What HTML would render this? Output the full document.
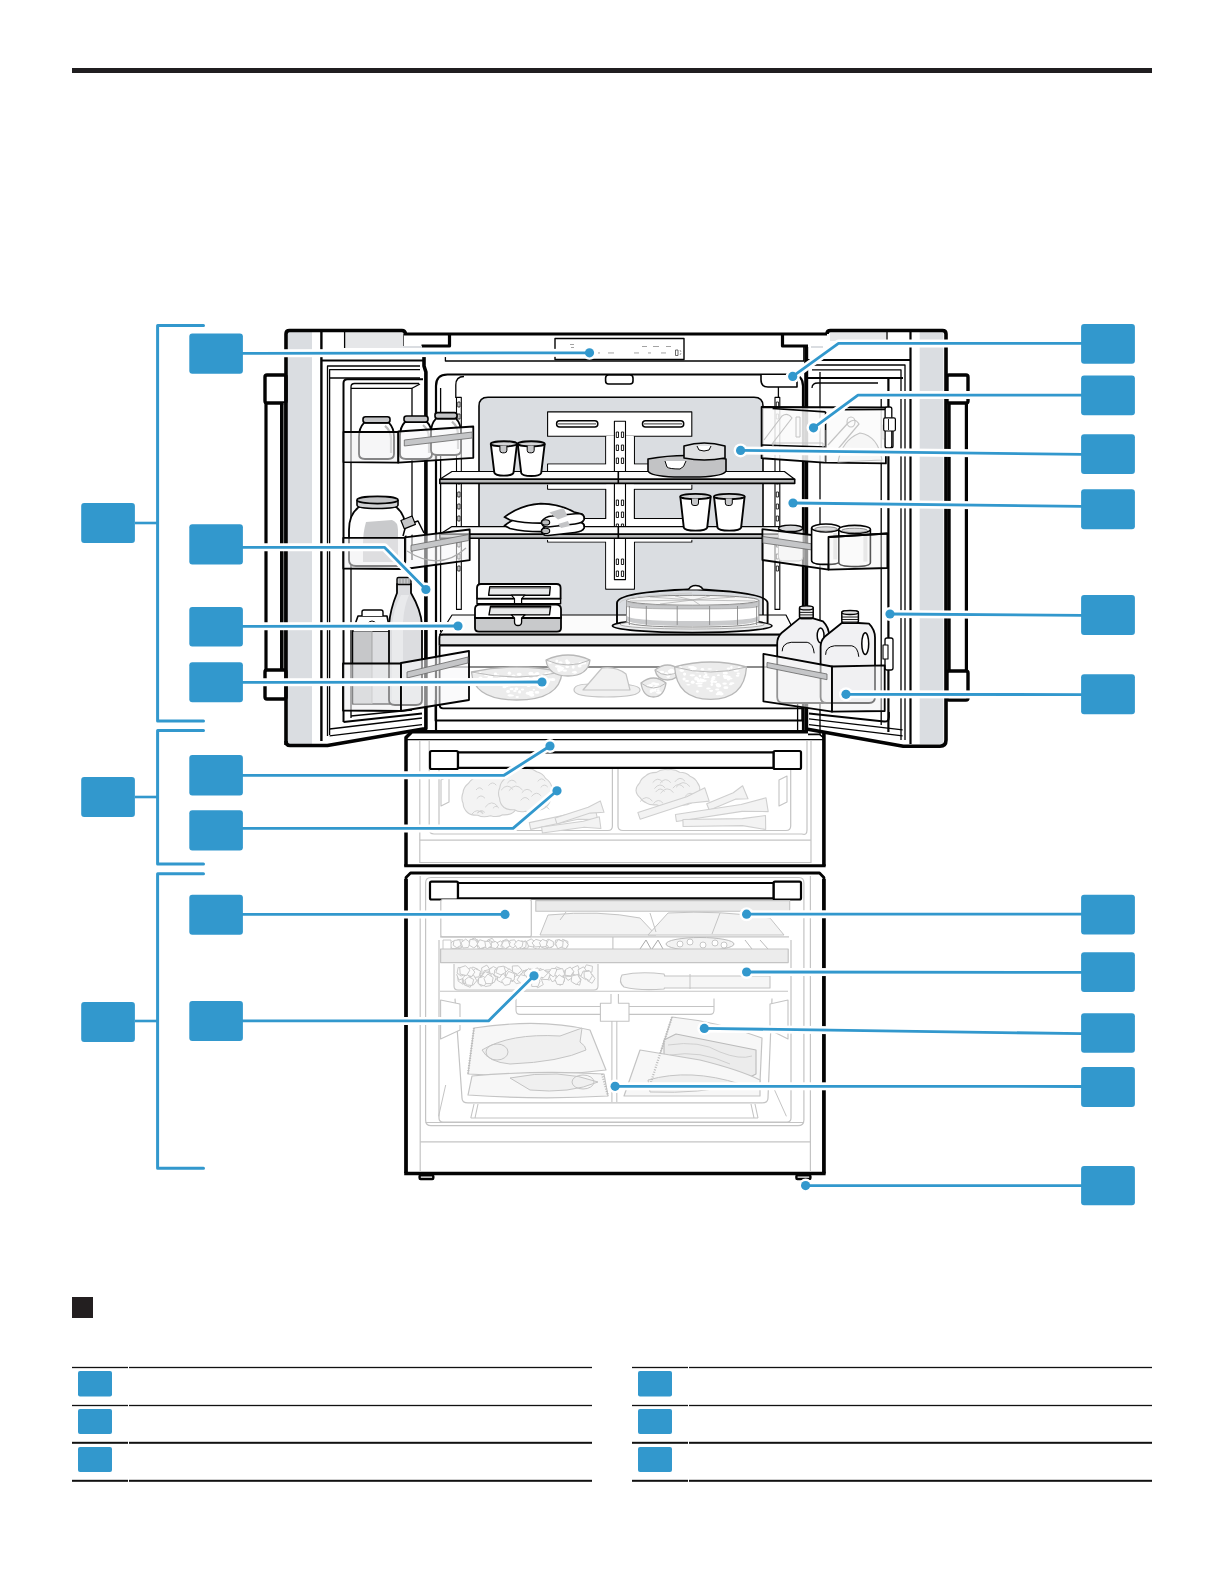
<!DOCTYPE html>
<html><head><meta charset="utf-8"><title>Refrigerator components</title>
<style>html,body{margin:0;padding:0;background:#fff;font-family:"Liberation Sans",sans-serif;}svg{display:block}</style>
</head><body>
<svg width="1224" height="1584" viewBox="0 0 1224 1584"><rect width="1224" height="1584" fill="#fff"/><rect x="72" y="68" width="1080" height="5" fill="#201e20"/>
<rect x="72" y="1297" width="21" height="21" fill="#231f20"/>
<rect x="72" y="1366.85" width="56" height="1.3" fill="#111"/>
<rect x="129" y="1366.85" width="463" height="1.3" fill="#111"/>
<rect x="72" y="1404.85" width="56" height="1.3" fill="#111"/>
<rect x="129" y="1404.85" width="463" height="1.3" fill="#111"/>
<rect x="72" y="1441.8" width="56" height="2" fill="#111"/>
<rect x="129" y="1441.8" width="463" height="2" fill="#111"/>
<rect x="72" y="1479.8" width="56" height="2" fill="#111"/>
<rect x="129" y="1479.8" width="463" height="2" fill="#111"/>
<rect x="78" y="1371" width="34" height="25.5" rx="2" fill="#3298cd"/>
<rect x="78" y="1409" width="34" height="25" rx="2" fill="#3298cd"/>
<rect x="78" y="1447" width="34" height="25" rx="2" fill="#3298cd"/>
<rect x="632" y="1366.85" width="56" height="1.3" fill="#111"/>
<rect x="689" y="1366.85" width="463" height="1.3" fill="#111"/>
<rect x="632" y="1404.85" width="56" height="1.3" fill="#111"/>
<rect x="689" y="1404.85" width="463" height="1.3" fill="#111"/>
<rect x="632" y="1441.8" width="56" height="2" fill="#111"/>
<rect x="689" y="1441.8" width="463" height="2" fill="#111"/>
<rect x="632" y="1479.8" width="56" height="2" fill="#111"/>
<rect x="689" y="1479.8" width="463" height="2" fill="#111"/>
<rect x="638" y="1371" width="34" height="25.5" rx="2" fill="#3298cd"/>
<rect x="638" y="1409" width="34" height="25" rx="2" fill="#3298cd"/>
<rect x="638" y="1447" width="34" height="25" rx="2" fill="#3298cd"/>
<g id="fridge" stroke-linejoin="round">
<path d="M404,334 H827" fill="none" stroke="#030303" stroke-width="3.2" />
<path d="M421.5,346 H449.5 V334" fill="none" stroke="#030303" stroke-width="3.2" />
<line x1="403" y1="334" x2="403" y2="347" stroke="#030303" stroke-width="1.3" />
<path d="M782.5,334 V346 H808" fill="none" stroke="#030303" stroke-width="3.2" />
<rect x="403" y="346" width="19" height="2" fill="#dadde1" />
<rect x="811" y="346" width="12" height="2" fill="#dadde1" />
<path d="M445.4,357 V361 H803.8 V347" fill="none" stroke="#030303" stroke-width="1.3" />
<rect x="555" y="338.5" width="129" height="21" fill="#fff" stroke="#030303" stroke-width="1.4" />
<rect x="570" y="344" width="4" height="0.9" fill="#999" />
<rect x="571" y="347" width="3" height="0.9" fill="#999" />
<rect x="598" y="352.5" width="2" height="0.9" fill="#999" />
<rect x="608" y="352.5" width="6" height="0.9" fill="#999" />
<rect x="634" y="352.5" width="5" height="0.9" fill="#999" />
<rect x="648" y="352.5" width="3" height="0.9" fill="#999" />
<rect x="661" y="352.5" width="5" height="0.9" fill="#999" />
<rect x="642" y="346" width="5" height="0.9" fill="#999" />
<rect x="653" y="346" width="6" height="0.9" fill="#999" />
<rect x="666" y="346" width="5" height="0.9" fill="#999" />
<rect x="675.5" y="350" width="2.5" height="5.5" fill="none" stroke="#444" stroke-width="0.8" />
<path d="M680,350 L681,352 M680,355 L681,353" fill="none" stroke="#666" stroke-width="0.6" />
<path d="M436,731 V386 Q436,374.5 447.5,374.5 H791.5 Q803,374.5 803,386 V731" fill="none" stroke="#030303" stroke-width="2.2" />
<path d="M455.8,398 V385 Q455.8,376.5 464,376.5" fill="none" stroke="#030303" stroke-width="1.3" />
<line x1="440.6" y1="388" x2="440.6" y2="632" stroke="#030303" stroke-width="1.3" />
<path d="M784,376.5 Q778.4,378 778.4,386 V398" fill="none" stroke="#030303" stroke-width="1.3" />
<rect x="605.6" y="375" width="27.4" height="9" fill="#fff" stroke="#030303" stroke-width="1.6" rx="3" />
<path d="M761,375 V380 Q761,387 768,387 H797 V375" fill="#fff" stroke="#030303" stroke-width="1.6" />
<path d="M479,617 V406 Q479,397.2 488,397.2 H754 Q763,397.2 763,406 V617 Z" fill="#dadde1" stroke="#030303" stroke-width="1.6" />
<rect x="547.6" y="411.9" width="144.2" height="24.3" fill="#fff" stroke="#030303" stroke-width="1.1" />
<path d="M605.7,436.2 V464 H547.6 V471.5 M634.4,436.2 V464 H691.8 V471.5" fill="none" stroke="#030303" stroke-width="1.1" />
<rect x="606.3" y="436" width="27.5" height="150" fill="#fff" />
<rect x="548.2" y="464.6" width="143" height="7" fill="#fff" />
<path d="M547.6,484.7 V489.1 H605.7 V518.5 H547.6 V526 M691.8,484.7 V489.1 H634.4 V518.5 H691.8 V526" fill="none" stroke="#030303" stroke-width="1.1" />
<rect x="548.2" y="484.7" width="143" height="4" fill="#fff" />
<rect x="548.2" y="519.1" width="143" height="7" fill="#fff" />
<path d="M547.6,539.9 V542 H605.7 V589.1 H634.4 V542 H691.8 V539.9" fill="none" stroke="#030303" stroke-width="1.1" />
<rect x="548.2" y="539" width="143" height="2.5" fill="#fff" />
<rect x="606.3" y="541" width="27.5" height="47.5" fill="#fff" />
<rect x="556.6" y="420.8" width="41.2" height="6.2" fill="#fff" stroke="#030303" stroke-width="1.5" rx="3" />
<line x1="558" y1="423.9" x2="596" y2="423.9" stroke="#030303" stroke-width="0.8" />
<rect x="642.5" y="420.8" width="41.2" height="6.2" fill="#fff" stroke="#030303" stroke-width="1.5" rx="3" />
<line x1="644" y1="423.9" x2="682" y2="423.9" stroke="#030303" stroke-width="0.8" />
<rect x="614.4" y="421.3" width="11.1" height="158.3" fill="#fff" stroke="#030303" stroke-width="1.1" />
<rect x="616.3" y="432" width="2.2" height="5.5" fill="none" stroke="#030303" stroke-width="0.9" />
<rect x="621.4" y="432" width="2.2" height="5.5" fill="none" stroke="#030303" stroke-width="0.9" />
<rect x="616.3" y="445" width="2.2" height="5.5" fill="none" stroke="#030303" stroke-width="0.9" />
<rect x="621.4" y="445" width="2.2" height="5.5" fill="none" stroke="#030303" stroke-width="0.9" />
<rect x="616.3" y="458" width="2.2" height="5.5" fill="none" stroke="#030303" stroke-width="0.9" />
<rect x="621.4" y="458" width="2.2" height="5.5" fill="none" stroke="#030303" stroke-width="0.9" />
<rect x="616.3" y="500" width="2.2" height="5.5" fill="none" stroke="#030303" stroke-width="0.9" />
<rect x="621.4" y="500" width="2.2" height="5.5" fill="none" stroke="#030303" stroke-width="0.9" />
<rect x="616.3" y="512" width="2.2" height="5.5" fill="none" stroke="#030303" stroke-width="0.9" />
<rect x="621.4" y="512" width="2.2" height="5.5" fill="none" stroke="#030303" stroke-width="0.9" />
<rect x="616.3" y="524" width="2.2" height="5.5" fill="none" stroke="#030303" stroke-width="0.9" />
<rect x="621.4" y="524" width="2.2" height="5.5" fill="none" stroke="#030303" stroke-width="0.9" />
<rect x="616.3" y="559" width="2.2" height="5.5" fill="none" stroke="#030303" stroke-width="0.9" />
<rect x="621.4" y="559" width="2.2" height="5.5" fill="none" stroke="#030303" stroke-width="0.9" />
<rect x="616.3" y="571" width="2.2" height="5.5" fill="none" stroke="#030303" stroke-width="0.9" />
<rect x="621.4" y="571" width="2.2" height="5.5" fill="none" stroke="#030303" stroke-width="0.9" />
<rect x="456.5" y="397.4" width="4.8" height="212" fill="#fff" stroke="#030303" stroke-width="1.1" />
<rect x="457.8" y="402" width="2.2" height="5" fill="none" stroke="#030303" stroke-width="0.8" />
<rect x="457.8" y="414" width="2.2" height="5" fill="none" stroke="#030303" stroke-width="0.8" />
<rect x="457.8" y="479" width="2.2" height="5" fill="none" stroke="#030303" stroke-width="0.8" />
<rect x="457.8" y="492" width="2.2" height="5" fill="none" stroke="#030303" stroke-width="0.8" />
<rect x="457.8" y="504" width="2.2" height="5" fill="none" stroke="#030303" stroke-width="0.8" />
<rect x="457.8" y="516" width="2.2" height="5" fill="none" stroke="#030303" stroke-width="0.8" />
<rect x="457.8" y="542" width="2.2" height="5" fill="none" stroke="#030303" stroke-width="0.8" />
<rect x="457.8" y="554" width="2.2" height="5" fill="none" stroke="#030303" stroke-width="0.8" />
<rect x="457.8" y="566" width="2.2" height="5" fill="none" stroke="#030303" stroke-width="0.8" />
<rect x="775" y="397.4" width="4.8" height="212" fill="#fff" stroke="#030303" stroke-width="1.1" />
<rect x="776.3" y="402" width="2.2" height="5" fill="none" stroke="#030303" stroke-width="0.8" />
<rect x="776.3" y="414" width="2.2" height="5" fill="none" stroke="#030303" stroke-width="0.8" />
<rect x="776.3" y="479" width="2.2" height="5" fill="none" stroke="#030303" stroke-width="0.8" />
<rect x="776.3" y="492" width="2.2" height="5" fill="none" stroke="#030303" stroke-width="0.8" />
<rect x="776.3" y="504" width="2.2" height="5" fill="none" stroke="#030303" stroke-width="0.8" />
<rect x="776.3" y="516" width="2.2" height="5" fill="none" stroke="#030303" stroke-width="0.8" />
<rect x="776.3" y="542" width="2.2" height="5" fill="none" stroke="#030303" stroke-width="0.8" />
<rect x="776.3" y="554" width="2.2" height="5" fill="none" stroke="#030303" stroke-width="0.8" />
<rect x="776.3" y="566" width="2.2" height="5" fill="none" stroke="#030303" stroke-width="0.8" />
<polygon points="452,471.5 784.4,471.5 794.7,479.2 439.8,479.2" fill="#fbfbfb" stroke="#030303" stroke-width="1.2" />
<rect x="439.8" y="479.2" width="354.90000000000003" height="4.199999999999989" fill="#b9babb" stroke="#030303" stroke-width="1.6" />
<polygon points="452,526.6 784.4,526.6 794.7,534.2 439.8,534.2" fill="#fbfbfb" stroke="#030303" stroke-width="1.2" />
<rect x="439.8" y="534.2" width="354.90000000000003" height="4.0" fill="#b9babb" stroke="#030303" stroke-width="1.6" />
<line x1="618.3" y1="471.5" x2="618.3" y2="483.4" stroke="#030303" stroke-width="1.6" />
<line x1="618.3" y1="526.6" x2="618.3" y2="538.2" stroke="#030303" stroke-width="1.6" />
<polygon points="452,615 786,615 796,634.7 439.6,634.7" fill="#fbfbfb" stroke="#030303" stroke-width="1.2" />
<path d="M439.6,645.4 V638 Q439.6,634.7 443,634.7 H800" fill="none" stroke="#030303" stroke-width="2.2" />
<rect x="440.5" y="635.8" width="360" height="9.6" fill="#e4e5e6" />
<line x1="439.6" y1="645.4" x2="800" y2="645.4" stroke="#030303" stroke-width="2.2" />
<path d="M439.6,645.4 V705 Q439.6,708.3 443,708.3 H802" fill="none" stroke="#030303" stroke-width="1.8" />
<line x1="439.6" y1="667" x2="802" y2="667" stroke="#666" stroke-width="1.3" />
<path d="M435.5,700 V720.5 H802.2 V708" fill="none" stroke="#030303" stroke-width="1.8" />
<path d="M490.8,443.8 L494.3,472.6 Q495.3,475.6 503.9,475.6 Q512.5,475.6 513.5,472.6 L517,443.8" fill="#fff" stroke="#030303" stroke-width="1.9" />
<ellipse cx="503.9" cy="443.8" rx="13.099999999999994" ry="2.6" fill="#d3d4d6" stroke="#030303" stroke-width="1.9"/>
<path d="M499.9,445.8 V450.3 Q499.9,452.8 502.4,452.8 H504.4 Q506.9,452.8 506.9,450.3 V445.8" fill="#c6c7c9" stroke="#030303" stroke-width="1.0" />
<path d="M517.7,443.8 L521.2,473 Q522.2,476 531.2,476 Q540.2,476 541.2,473 L544.7,443.8" fill="#fff" stroke="#030303" stroke-width="1.9" />
<ellipse cx="531.2" cy="443.8" rx="13.5" ry="2.6" fill="#d3d4d6" stroke="#030303" stroke-width="1.9"/>
<path d="M527.2,445.8 V450.3 Q527.2,452.8 529.7,452.8 H531.7 Q534.2,452.8 534.2,450.3 V445.8" fill="#c6c7c9" stroke="#030303" stroke-width="1.0" />
<path d="M680.3,496.5 L683.8,527.6 Q684.8,530.6 695.5,530.6 Q706.2,530.6 707.2,527.6 L710.7,496.5" fill="#fff" stroke="#030303" stroke-width="1.9" />
<ellipse cx="695.5" cy="496.5" rx="15.200000000000045" ry="2.6" fill="#d3d4d6" stroke="#030303" stroke-width="1.9"/>
<path d="M691.5,498.5 V503 Q691.5,505.5 694.0,505.5 H696.0 Q698.5,505.5 698.5,503 V498.5" fill="#c6c7c9" stroke="#030303" stroke-width="1.0" />
<path d="M714,496.5 L717.5,527.6 Q718.5,530.6 729.3,530.6 Q740.1,530.6 741.1,527.6 L744.6,496.5" fill="#fff" stroke="#030303" stroke-width="1.9" />
<ellipse cx="729.3" cy="496.5" rx="15.300000000000011" ry="2.6" fill="#d3d4d6" stroke="#030303" stroke-width="1.9"/>
<path d="M725.3,498.5 V503 Q725.3,505.5 727.8,505.5 H729.8 Q732.3,505.5 732.3,503 V498.5" fill="#c6c7c9" stroke="#030303" stroke-width="1.0" />
<path d="M648,459 Q686,452 726,459 V471 Q724,476 700,477 H674 Q650,476 648,471 Z" fill="#c2c3c5" stroke="#030303" stroke-width="1.6" />
<path d="M665,461 L667,467 Q669,469 680,469 Q684,468 686,461" fill="#fff" stroke="#030303" stroke-width="1.0" />
<path d="M684,446 Q704,440 725,446 V458 Q704,462 684,458 Z" fill="#dfe0e2" stroke="#030303" stroke-width="1.6" />
<path d="M697,446 L699,450 Q704,452 709,450 L711,446" fill="#fff" stroke="#030303" stroke-width="1.0" />
<path d="M504.4,525.6 Q520,513.5 540.8,512.1 Q560,512.5 574,520.5 L582,522.5 Q586,525.5 583,529.5 L548,531.5 Q528,532.5 510,528.5 Z" fill="#fff" stroke="#030303" stroke-width="1.7" />
<path d="M541.6,530.0 Q545,525.0 552,524.5 L578,522.0 Q585,522.5 584,528.0 Q583,531.5 575,532.5 L548,535.5 Q541,535.5 541.6,530.0 Z" fill="#fff" stroke="#030303" stroke-width="1.6" />
<ellipse cx="545.7" cy="530.9" rx="4" ry="2.6" fill="#bdbebf" stroke="#030303" stroke-width="1.1"/>
<path d="M504.4,517.1 Q520,505 540.8,503.6 Q560,504 574,512 L582,514 Q586,517 583,521 L548,523 Q528,524 510,520 Z" fill="#fff" stroke="#030303" stroke-width="1.7" />
<path d="M541.6,521.5 Q545,516.5 552,516 L578,513.5 Q585,514 584,519.5 Q583,523 575,524 L548,527 Q541,527 541.6,521.5 Z" fill="#fff" stroke="#030303" stroke-width="1.6" />
<ellipse cx="545.7" cy="522.4" rx="4" ry="2.6" fill="#bdbebf" stroke="#030303" stroke-width="1.1"/>
<polygon points="549.3,512.6 563.6,508 567.5,515.9 558,519.5" fill="#c3c4c6" stroke="none" stroke-width="1" />
<polygon points="558,524 568,521 570,526 561,528" fill="#c3c4c6" stroke="none" stroke-width="1" />
<path d="M475,617 V628 Q475,631.6 479,631.6 H557 Q561,631.6 561,628 V617 Z" fill="#c8c9cb" stroke="#030303" stroke-width="1.8" />
<path d="M475,618 V609 Q475,604.6 480,604.6 H556 Q561,604.6 561,609 V618 Q561,618 557,618 H479 Q475,618 475,618 Z" fill="#fff" stroke="#030303" stroke-width="1.8" />
<path d="M489,614.9 L490.5,606.3 H550.6 L549.5,614.9 Z" fill="#e8e9ea" stroke="#030303" stroke-width="1.4" />
<line x1="491" y1="607.6" x2="550" y2="607.6" stroke="#555" stroke-width="1.4" />
<path d="M511.3,614.9 L514.5,618 V622 Q514.5,625.5 518,625.5 Q521.6,625.5 521.6,622 V618 L525,614.9 Z" fill="#fff" stroke="#030303" stroke-width="1.3" />
<path d="M477,598.6 V603.7 H560.6 V598.6 Z" fill="#fff" stroke="#030303" stroke-width="1.4" />
<path d="M477,598.6 V588 Q477,584 481,584 H556.6 Q560.6,584 560.6,588 V598.6 Z" fill="#fff" stroke="#030303" stroke-width="1.8" />
<path d="M488.6,595.2 L489.8,586.6 H550.3 L549.5,595.2 Z" fill="#e8e9ea" stroke="#030303" stroke-width="1.4" />
<line x1="490" y1="587.9" x2="550" y2="587.9" stroke="#555" stroke-width="1.4" />
<path d="M511.3,595.2 L514.5,598.6 V603.7 H521.6 V598.6 L525,595.2 Z" fill="#fff" stroke="#030303" stroke-width="1.2" />
<ellipse cx="692.2" cy="625.8" rx="79.7" ry="6.8" fill="#e9eaeb" stroke="#030303" stroke-width="1.8"/>
<ellipse cx="692.2" cy="624.5" rx="72" ry="4.5" fill="#f4f4f4" stroke="#999" stroke-width="0.8"/>
<path d="M626.5,600 V621 Q626.5,627 692.6,627 Q758.8,627 758.8,621 V600" fill="#fff" stroke="#888" stroke-width="1.0" />
<path d="M626.5,619 Q626.5,626 692.6,626 Q758.8,626 758.8,619 V615 Q758.8,621 692.6,621 Q626.5,621 626.5,615 Z" fill="#c9cacc" stroke="none" stroke-width="1" />
<ellipse cx="692.6" cy="600.3" rx="66.2" ry="5" fill="#f6f6f6" stroke="#888" stroke-width="1"/>
<path d="M626.5,600.3 V606 Q626.5,609 692.6,609 Q758.8,609 758.8,606 V600.3 Q758.8,605.3 692.6,605.3 Q626.5,605.3 626.5,600.3 Z" fill="#c6c7c9" stroke="#999" stroke-width="0.6" />
<line x1="629.4" y1="606" x2="629.4" y2="625" stroke="#888" stroke-width="0.9" />
<line x1="646.3" y1="606" x2="646.3" y2="625" stroke="#888" stroke-width="0.9" />
<line x1="677.2" y1="606" x2="677.2" y2="625" stroke="#888" stroke-width="0.9" />
<line x1="709.6" y1="606" x2="709.6" y2="625" stroke="#888" stroke-width="0.9" />
<line x1="737.5" y1="606" x2="737.5" y2="625" stroke="#888" stroke-width="0.9" />
<line x1="756.6" y1="606" x2="756.6" y2="625" stroke="#888" stroke-width="0.9" />
<line x1="692.6" y1="600" x2="630" y2="601" stroke="#aaa" stroke-width="0.7" />
<line x1="692.6" y1="600" x2="650" y2="597" stroke="#aaa" stroke-width="0.7" />
<line x1="692.6" y1="600" x2="675" y2="596" stroke="#aaa" stroke-width="0.7" />
<line x1="692.6" y1="600" x2="710" y2="596" stroke="#aaa" stroke-width="0.7" />
<line x1="692.6" y1="600" x2="735" y2="597" stroke="#aaa" stroke-width="0.7" />
<line x1="692.6" y1="600" x2="755" y2="601" stroke="#aaa" stroke-width="0.7" />
<line x1="692.6" y1="600" x2="700" y2="605" stroke="#aaa" stroke-width="0.7" />
<line x1="692.6" y1="600" x2="660" y2="604" stroke="#aaa" stroke-width="0.7" />
<path d="M617,623 V603 Q617,592 692.2,589.2 Q767.6,592 767.6,603 V623" fill="none" stroke="#030303" stroke-width="1.9" />
<path d="M688.5,589.5 Q690,586.5 693,585.8 Q696,585 699,586 Q702,587 703,589.5" fill="#fff" stroke="#030303" stroke-width="1.6" />
<path d="M620,603 Q620,596 692,593" fill="none" stroke="#ccc" stroke-width="1.0" />
<path d="M471.5,672 Q473.5,700 516.75,700 Q560,700 562,672 Q516.75,662 471.5,672 Z" fill="#ececec" stroke="#b8b8b8" stroke-width="1.3" />
<ellipse cx="495.1" cy="684.2" rx="1.8" ry="1.4" fill="#fff"/>
<ellipse cx="496.9" cy="675.6" rx="2.8" ry="1.3" fill="#fff"/>
<ellipse cx="544.5" cy="682.3" rx="2.2" ry="1.0" fill="#fff"/>
<ellipse cx="527.9" cy="693.3" rx="2.0" ry="1.5" fill="#fff"/>
<ellipse cx="538.1" cy="685.6" rx="1.7" ry="0.8" fill="#fff"/>
<ellipse cx="546.9" cy="682.2" rx="2.4" ry="1.7" fill="#fff"/>
<ellipse cx="508.1" cy="691.4" rx="1.9" ry="1.7" fill="#fff"/>
<ellipse cx="486.7" cy="675.1" rx="2.7" ry="1.2" fill="#fff"/>
<ellipse cx="527.2" cy="677.4" rx="2.0" ry="1.2" fill="#fff"/>
<ellipse cx="504.5" cy="685.4" rx="2.1" ry="1.7" fill="#fff"/>
<ellipse cx="531.8" cy="695.0" rx="2.6" ry="1.8" fill="#fff"/>
<ellipse cx="530.9" cy="673.6" rx="2.6" ry="1.8" fill="#fff"/>
<ellipse cx="534.4" cy="674.9" rx="2.5" ry="1.4" fill="#fff"/>
<ellipse cx="509.4" cy="673.2" rx="1.7" ry="1.6" fill="#fff"/>
<ellipse cx="534.8" cy="678.3" rx="2.6" ry="1.8" fill="#fff"/>
<ellipse cx="517.2" cy="697.0" rx="1.7" ry="0.9" fill="#fff"/>
<ellipse cx="491.8" cy="680.4" rx="2.2" ry="1.0" fill="#fff"/>
<ellipse cx="549.5" cy="679.6" rx="1.9" ry="1.3" fill="#fff"/>
<ellipse cx="528.6" cy="685.7" rx="2.1" ry="1.4" fill="#fff"/>
<ellipse cx="511.1" cy="689.2" rx="1.6" ry="1.1" fill="#fff"/>
<ellipse cx="509.8" cy="685.2" rx="1.2" ry="1.4" fill="#fff"/>
<ellipse cx="527.3" cy="682.1" rx="2.3" ry="1.2" fill="#fff"/>
<ellipse cx="533.8" cy="689.7" rx="1.2" ry="0.9" fill="#fff"/>
<ellipse cx="496.2" cy="681.8" rx="2.1" ry="1.1" fill="#fff"/>
<ellipse cx="505.5" cy="677.8" rx="1.8" ry="1.4" fill="#fff"/>
<ellipse cx="500.3" cy="679.6" rx="2.4" ry="0.8" fill="#fff"/>
<ellipse cx="522.5" cy="689.6" rx="1.7" ry="1.0" fill="#fff"/>
<ellipse cx="541.8" cy="675.7" rx="1.5" ry="1.2" fill="#fff"/>
<ellipse cx="502.1" cy="678.3" rx="2.5" ry="1.2" fill="#fff"/>
<ellipse cx="546.1" cy="673.7" rx="1.7" ry="1.5" fill="#fff"/>
<ellipse cx="548.5" cy="681.6" rx="1.6" ry="0.9" fill="#fff"/>
<ellipse cx="519.2" cy="674.3" rx="2.5" ry="1.6" fill="#fff"/>
<ellipse cx="490.6" cy="676.8" rx="2.5" ry="1.4" fill="#fff"/>
<ellipse cx="542.0" cy="678.7" rx="1.4" ry="1.1" fill="#fff"/>
<ellipse cx="541.0" cy="676.6" rx="1.8" ry="1.2" fill="#fff"/>
<ellipse cx="510.1" cy="680.5" rx="2.7" ry="1.0" fill="#fff"/>
<ellipse cx="511.3" cy="695.6" rx="2.7" ry="1.0" fill="#fff"/>
<ellipse cx="537.0" cy="692.4" rx="2.3" ry="1.3" fill="#fff"/>
<ellipse cx="499.3" cy="678.5" rx="1.6" ry="0.9" fill="#fff"/>
<ellipse cx="524.1" cy="677.0" rx="2.5" ry="0.8" fill="#fff"/>
<ellipse cx="489.7" cy="677.4" rx="2.3" ry="1.3" fill="#fff"/>
<ellipse cx="509.6" cy="695.3" rx="2.2" ry="1.1" fill="#fff"/>
<ellipse cx="514.9" cy="690.9" rx="1.8" ry="1.0" fill="#fff"/>
<ellipse cx="519.6" cy="691.9" rx="1.5" ry="1.6" fill="#fff"/>
<ellipse cx="527.4" cy="693.2" rx="1.3" ry="1.1" fill="#fff"/>
<ellipse cx="497.7" cy="683.8" rx="1.9" ry="1.3" fill="#fff"/>
<ellipse cx="480.0" cy="672.6" rx="1.4" ry="0.9" fill="#fff"/>
<ellipse cx="482.6" cy="683.1" rx="1.7" ry="1.1" fill="#fff"/>
<ellipse cx="504.5" cy="687.1" rx="2.1" ry="1.2" fill="#fff"/>
<ellipse cx="491.3" cy="678.2" rx="1.4" ry="1.4" fill="#fff"/>
<ellipse cx="534.6" cy="679.6" rx="1.3" ry="1.0" fill="#fff"/>
<ellipse cx="506.3" cy="685.9" rx="2.5" ry="1.2" fill="#fff"/>
<ellipse cx="541.6" cy="686.4" rx="1.9" ry="1.2" fill="#fff"/>
<ellipse cx="516.4" cy="688.7" rx="1.9" ry="1.5" fill="#fff"/>
<ellipse cx="513.5" cy="675.9" rx="2.1" ry="1.5" fill="#fff"/>
<ellipse cx="481.4" cy="680.9" rx="1.9" ry="1.7" fill="#fff"/>
<ellipse cx="552.8" cy="679.5" rx="2.6" ry="1.6" fill="#fff"/>
<ellipse cx="497.1" cy="682.0" rx="1.4" ry="1.6" fill="#fff"/>
<ellipse cx="530.1" cy="693.8" rx="2.5" ry="1.5" fill="#fff"/>
<ellipse cx="536.0" cy="684.8" rx="1.4" ry="1.4" fill="#fff"/>
<ellipse cx="475.9" cy="673.0" rx="2.4" ry="0.8" fill="#fff"/>
<ellipse cx="548.1" cy="674.0" rx="1.2" ry="1.6" fill="#fff"/>
<ellipse cx="531.1" cy="692.4" rx="2.7" ry="1.4" fill="#fff"/>
<ellipse cx="538.8" cy="683.3" rx="2.3" ry="0.9" fill="#fff"/>
<ellipse cx="480.5" cy="678.1" rx="2.1" ry="1.6" fill="#fff"/>
<ellipse cx="495.5" cy="674.0" rx="1.6" ry="1.4" fill="#fff"/>
<ellipse cx="537.7" cy="680.0" rx="1.8" ry="1.2" fill="#fff"/>
<ellipse cx="504.4" cy="680.7" rx="1.3" ry="1.3" fill="#fff"/>
<ellipse cx="537.2" cy="673.5" rx="2.3" ry="1.6" fill="#fff"/>
<ellipse cx="531.1" cy="683.5" rx="2.0" ry="1.4" fill="#fff"/>
<ellipse cx="549.5" cy="673.2" rx="1.4" ry="1.5" fill="#fff"/>
<ellipse cx="512.1" cy="689.1" rx="1.5" ry="1.1" fill="#fff"/>
<path d="M471.5,672 Q516.75,682 562,672" fill="none" stroke="#bbb" stroke-width="1.0" />
<path d="M546,660 Q548,676 568.0,676 Q588,676 590,660 Q568.0,650 546,660 Z" fill="#ececec" stroke="#b8b8b8" stroke-width="1.3" />
<ellipse cx="557.2" cy="666.4" rx="1.7" ry="1.0" fill="#fff"/>
<ellipse cx="574.9" cy="672.3" rx="1.7" ry="1.5" fill="#fff"/>
<ellipse cx="564.9" cy="670.7" rx="2.1" ry="1.1" fill="#fff"/>
<ellipse cx="567.3" cy="663.1" rx="1.5" ry="1.2" fill="#fff"/>
<ellipse cx="561.6" cy="669.4" rx="1.4" ry="1.8" fill="#fff"/>
<ellipse cx="567.3" cy="666.6" rx="1.9" ry="1.6" fill="#fff"/>
<ellipse cx="579.6" cy="665.9" rx="2.0" ry="1.5" fill="#fff"/>
<ellipse cx="580.8" cy="663.4" rx="2.4" ry="1.8" fill="#fff"/>
<ellipse cx="566.8" cy="660.7" rx="1.6" ry="1.5" fill="#fff"/>
<ellipse cx="574.3" cy="672.3" rx="2.6" ry="1.0" fill="#fff"/>
<ellipse cx="556.8" cy="661.1" rx="1.5" ry="1.5" fill="#fff"/>
<ellipse cx="559.2" cy="670.8" rx="1.7" ry="1.2" fill="#fff"/>
<ellipse cx="560.5" cy="662.7" rx="2.1" ry="1.5" fill="#fff"/>
<ellipse cx="550.2" cy="662.4" rx="1.9" ry="1.3" fill="#fff"/>
<ellipse cx="557.6" cy="666.4" rx="2.7" ry="1.2" fill="#fff"/>
<ellipse cx="559.9" cy="667.6" rx="1.4" ry="1.7" fill="#fff"/>
<ellipse cx="583.9" cy="663.0" rx="2.4" ry="1.6" fill="#fff"/>
<ellipse cx="560.6" cy="667.8" rx="2.2" ry="1.6" fill="#fff"/>
<ellipse cx="559.6" cy="669.1" rx="2.7" ry="1.5" fill="#fff"/>
<ellipse cx="567.8" cy="662.6" rx="2.3" ry="1.5" fill="#fff"/>
<ellipse cx="573.2" cy="667.1" rx="1.5" ry="1.7" fill="#fff"/>
<ellipse cx="561.9" cy="668.5" rx="2.2" ry="1.4" fill="#fff"/>
<ellipse cx="573.3" cy="664.3" rx="1.7" ry="1.0" fill="#fff"/>
<path d="M546,660 Q568.0,670 590,660" fill="none" stroke="#bbb" stroke-width="1.0" />
<path d="M574,690 Q574,684 590,684 H620 Q640,685 640,690 Q640,697 606,697 Q574,697 574,690 Z" fill="#f1f1f1" stroke="#c4c4c4" stroke-width="1.2" />
<path d="M583,690 L602,668 Q616,666 626,674 L630,690 Z" fill="#f1f1f1" stroke="#c4c4c4" stroke-width="1.2" />
<path d="M641,683 Q643,697 653.5,697 Q664,697 666,683 Q653.5,673 641,683 Z" fill="#ececec" stroke="#b8b8b8" stroke-width="1.3" />
<ellipse cx="657.8" cy="687.6" rx="2.4" ry="1.2" fill="#fff"/>
<ellipse cx="649.5" cy="685.4" rx="2.6" ry="0.8" fill="#fff"/>
<ellipse cx="653.6" cy="683.5" rx="2.4" ry="1.2" fill="#fff"/>
<ellipse cx="650.7" cy="685.6" rx="2.1" ry="1.6" fill="#fff"/>
<ellipse cx="651.0" cy="691.9" rx="1.4" ry="1.1" fill="#fff"/>
<ellipse cx="658.2" cy="690.2" rx="1.5" ry="1.0" fill="#fff"/>
<ellipse cx="652.1" cy="690.4" rx="2.5" ry="1.5" fill="#fff"/>
<ellipse cx="654.0" cy="688.0" rx="1.5" ry="1.1" fill="#fff"/>
<ellipse cx="658.7" cy="692.5" rx="2.7" ry="1.2" fill="#fff"/>
<ellipse cx="654.4" cy="688.2" rx="2.2" ry="1.8" fill="#fff"/>
<ellipse cx="656.7" cy="684.2" rx="2.6" ry="1.3" fill="#fff"/>
<ellipse cx="655.2" cy="690.2" rx="1.2" ry="1.6" fill="#fff"/>
<ellipse cx="656.3" cy="686.9" rx="2.0" ry="1.3" fill="#fff"/>
<path d="M641,683 Q653.5,693 666,683" fill="none" stroke="#bbb" stroke-width="1.0" />
<path d="M655,670 Q657,680 667.5,680 Q678,680 680,670 Q667.5,660 655,670 Z" fill="#ececec" stroke="#b8b8b8" stroke-width="1.3" />
<ellipse cx="662.3" cy="672.3" rx="1.3" ry="1.3" fill="#fff"/>
<ellipse cx="670.0" cy="671.4" rx="2.1" ry="1.8" fill="#fff"/>
<ellipse cx="672.5" cy="673.2" rx="1.3" ry="1.2" fill="#fff"/>
<ellipse cx="668.2" cy="676.3" rx="1.7" ry="1.7" fill="#fff"/>
<ellipse cx="673.6" cy="673.0" rx="2.7" ry="1.5" fill="#fff"/>
<ellipse cx="671.6" cy="670.4" rx="2.5" ry="1.7" fill="#fff"/>
<ellipse cx="673.6" cy="671.4" rx="2.4" ry="1.3" fill="#fff"/>
<ellipse cx="661.7" cy="672.0" rx="2.3" ry="1.3" fill="#fff"/>
<ellipse cx="666.2" cy="673.5" rx="1.7" ry="1.3" fill="#fff"/>
<path d="M655,670 Q667.5,680 680,670" fill="none" stroke="#bbb" stroke-width="1.0" />
<path d="M674.6,667 Q676.6,699.3 710.55,699.3 Q744.5,699.3 746.5,667 Q710.55,657 674.6,667 Z" fill="#ececec" stroke="#b8b8b8" stroke-width="1.3" />
<ellipse cx="727.0" cy="677.0" rx="1.5" ry="1.7" fill="#fff"/>
<ellipse cx="724.6" cy="675.9" rx="1.8" ry="1.3" fill="#fff"/>
<ellipse cx="716.7" cy="671.2" rx="1.2" ry="1.0" fill="#fff"/>
<ellipse cx="728.6" cy="668.6" rx="1.9" ry="1.0" fill="#fff"/>
<ellipse cx="692.0" cy="669.5" rx="1.8" ry="1.0" fill="#fff"/>
<ellipse cx="680.4" cy="667.6" rx="1.5" ry="1.3" fill="#fff"/>
<ellipse cx="707.2" cy="677.2" rx="2.3" ry="0.9" fill="#fff"/>
<ellipse cx="704.4" cy="676.8" rx="1.2" ry="1.8" fill="#fff"/>
<ellipse cx="692.6" cy="667.0" rx="2.0" ry="1.0" fill="#fff"/>
<ellipse cx="718.4" cy="675.2" rx="1.4" ry="0.9" fill="#fff"/>
<ellipse cx="725.1" cy="672.9" rx="2.5" ry="1.3" fill="#fff"/>
<ellipse cx="738.2" cy="673.7" rx="1.6" ry="1.1" fill="#fff"/>
<ellipse cx="730.7" cy="684.3" rx="1.8" ry="0.9" fill="#fff"/>
<ellipse cx="736.1" cy="670.5" rx="2.8" ry="1.3" fill="#fff"/>
<ellipse cx="698.1" cy="683.6" rx="2.7" ry="0.9" fill="#fff"/>
<ellipse cx="697.4" cy="691.5" rx="1.4" ry="1.2" fill="#fff"/>
<ellipse cx="700.0" cy="686.0" rx="2.7" ry="1.0" fill="#fff"/>
<ellipse cx="725.9" cy="687.7" rx="2.5" ry="1.4" fill="#fff"/>
<ellipse cx="737.6" cy="675.7" rx="1.9" ry="1.0" fill="#fff"/>
<ellipse cx="728.4" cy="679.5" rx="1.6" ry="1.0" fill="#fff"/>
<ellipse cx="724.6" cy="683.6" rx="2.3" ry="1.2" fill="#fff"/>
<ellipse cx="709.7" cy="669.0" rx="2.3" ry="0.8" fill="#fff"/>
<ellipse cx="708.4" cy="688.5" rx="2.3" ry="0.9" fill="#fff"/>
<ellipse cx="719.6" cy="692.4" rx="2.6" ry="1.2" fill="#fff"/>
<ellipse cx="699.9" cy="676.0" rx="1.3" ry="1.2" fill="#fff"/>
<ellipse cx="739.7" cy="667.4" rx="2.1" ry="0.9" fill="#fff"/>
<ellipse cx="688.4" cy="684.8" rx="2.1" ry="0.8" fill="#fff"/>
<ellipse cx="692.7" cy="682.2" rx="1.9" ry="1.6" fill="#fff"/>
<ellipse cx="717.2" cy="689.5" rx="2.1" ry="1.0" fill="#fff"/>
<ellipse cx="731.4" cy="667.6" rx="1.2" ry="1.8" fill="#fff"/>
<ellipse cx="684.1" cy="679.0" rx="1.6" ry="1.6" fill="#fff"/>
<ellipse cx="717.9" cy="684.7" rx="2.4" ry="1.7" fill="#fff"/>
<ellipse cx="700.7" cy="683.5" rx="1.9" ry="0.9" fill="#fff"/>
<ellipse cx="732.0" cy="683.2" rx="2.5" ry="1.0" fill="#fff"/>
<ellipse cx="713.1" cy="679.0" rx="2.4" ry="0.9" fill="#fff"/>
<ellipse cx="700.7" cy="679.7" rx="1.3" ry="1.4" fill="#fff"/>
<ellipse cx="725.6" cy="677.7" rx="2.2" ry="1.4" fill="#fff"/>
<ellipse cx="692.3" cy="675.3" rx="2.8" ry="1.1" fill="#fff"/>
<ellipse cx="692.5" cy="669.3" rx="2.7" ry="1.5" fill="#fff"/>
<ellipse cx="717.7" cy="694.1" rx="2.1" ry="1.2" fill="#fff"/>
<ellipse cx="728.0" cy="677.1" rx="2.8" ry="1.7" fill="#fff"/>
<ellipse cx="690.4" cy="667.1" rx="2.4" ry="1.1" fill="#fff"/>
<ellipse cx="711.8" cy="684.6" rx="1.3" ry="1.5" fill="#fff"/>
<ellipse cx="696.2" cy="678.0" rx="1.8" ry="1.5" fill="#fff"/>
<ellipse cx="726.3" cy="673.3" rx="1.4" ry="1.1" fill="#fff"/>
<ellipse cx="702.4" cy="669.2" rx="1.7" ry="1.3" fill="#fff"/>
<ellipse cx="712.2" cy="681.5" rx="1.8" ry="1.7" fill="#fff"/>
<ellipse cx="696.8" cy="679.0" rx="2.6" ry="1.6" fill="#fff"/>
<ellipse cx="697.6" cy="671.8" rx="2.5" ry="0.8" fill="#fff"/>
<ellipse cx="687.0" cy="681.1" rx="2.1" ry="1.0" fill="#fff"/>
<ellipse cx="681.8" cy="670.6" rx="2.4" ry="1.3" fill="#fff"/>
<ellipse cx="706.2" cy="674.9" rx="1.3" ry="1.3" fill="#fff"/>
<ellipse cx="684.6" cy="674.1" rx="1.6" ry="1.6" fill="#fff"/>
<ellipse cx="705.3" cy="672.4" rx="1.3" ry="1.2" fill="#fff"/>
<ellipse cx="718.7" cy="685.8" rx="2.7" ry="1.6" fill="#fff"/>
<ellipse cx="694.4" cy="668.4" rx="2.4" ry="1.6" fill="#fff"/>
<ellipse cx="711.1" cy="690.8" rx="2.1" ry="1.1" fill="#fff"/>
<ellipse cx="719.7" cy="693.0" rx="2.6" ry="1.3" fill="#fff"/>
<ellipse cx="721.1" cy="694.0" rx="2.5" ry="1.4" fill="#fff"/>
<ellipse cx="705.1" cy="680.7" rx="1.5" ry="1.0" fill="#fff"/>
<ellipse cx="713.6" cy="677.2" rx="1.8" ry="1.3" fill="#fff"/>
<ellipse cx="729.9" cy="678.6" rx="2.7" ry="1.0" fill="#fff"/>
<ellipse cx="698.7" cy="680.9" rx="1.9" ry="1.7" fill="#fff"/>
<ellipse cx="715.3" cy="681.8" rx="2.0" ry="1.1" fill="#fff"/>
<ellipse cx="702.3" cy="680.6" rx="2.6" ry="1.8" fill="#fff"/>
<path d="M674.6,667 Q710.55,677 746.5,667" fill="none" stroke="#bbb" stroke-width="1.0" />
<path d="M406,866 V737.5 L411.8,731.7 H808" fill="none" stroke="#030303" stroke-width="3.5" />
<path d="M808,734.4 H819.5 L823.9,738" fill="none" stroke="#030303" stroke-width="1.6" />
<line x1="407" y1="739.6" x2="823" y2="739.6" stroke="#030303" stroke-width="1.3" />
<path d="M823.9,733 V866" fill="none" stroke="#030303" stroke-width="3.6" />
<line x1="404.2" y1="865.8" x2="825.6" y2="865.8" stroke="#030303" stroke-width="2.9" />
<line x1="419.8" y1="741" x2="419.8" y2="863" stroke="#c4c4c4" stroke-width="1.2" />
<line x1="811" y1="741" x2="811" y2="863" stroke="#c4c4c4" stroke-width="1.2" />
<path d="M429.2,741 V829 Q429.2,834 434,834 H802 Q807,835.7 807,830 V741" fill="none" stroke="#c4c4c4" stroke-width="1.2" />
<line x1="419.8" y1="840.2" x2="811" y2="840.2" stroke="#c4c4c4" stroke-width="1.2" />
<line x1="419.8" y1="862.5" x2="811" y2="862.5" stroke="#c4c4c4" stroke-width="1.2" />
<path d="M439,768 V826 Q439,830.5 444,830.5 H608 Q612.4,830.5 612.4,826 V768" fill="none" stroke="#c4c4c4" stroke-width="1.2" />
<path d="M618,768 V826 Q618,830.5 623,830.5 H786 Q790.7,830.5 790.7,826 V768" fill="none" stroke="#c4c4c4" stroke-width="1.2" />
<path d="M441,780 L449,776 V802 L441,806 Z" fill="#fff" stroke="#c4c4c4" stroke-width="1.1" />
<path d="M779,780 L787,776 V802 L779,806 Z" fill="#fff" stroke="#c4c4c4" stroke-width="1.1" />
<path d="M490.5,773.6 Q497.2,772.5 502.6,776.7 Q509.9,777.7 513.4,782.5 Q517.8,786.7 517.6,792.8 Q520.1,798.0 518.0,803.3 Q517.8,808.7 513.3,812.4 Q509.8,815.2 502.7,814.8 Q497.5,817.8 490.5,815.7 Q483.2,818.1 477.7,815.2 Q470.9,815.4 467.5,812.5 Q463.2,808.7 463.1,803.3 Q460.7,798.0 463.0,792.7 Q463.5,787.0 468.6,783.2 Q471.8,778.1 478.5,776.8 Q483.8,772.6 490.5,773.6 Z" fill="#f3f3f3" stroke="#cfcfcf" stroke-width="1.1" />
<path d="M476.9,813.4 Q480.2,809.1 483.5,813.1" fill="none" stroke="#cfcfcf" stroke-width="0.9" />
<path d="M476.0,790.0 Q479.3,785.7 482.7,789.7" fill="none" stroke="#cfcfcf" stroke-width="0.9" />
<path d="M485.2,807.2 Q491.6,798.9 497.9,806.6" fill="none" stroke="#cfcfcf" stroke-width="0.9" />
<path d="M492.9,808.4 Q495.9,804.5 498.9,808.1" fill="none" stroke="#cfcfcf" stroke-width="0.9" />
<path d="M478.2,812.8 Q481.5,808.6 484.8,812.5" fill="none" stroke="#cfcfcf" stroke-width="0.9" />
<path d="M476.8,798.7 Q480.9,793.4 485.0,798.3" fill="none" stroke="#cfcfcf" stroke-width="0.9" />
<path d="M488.5,785.6 Q492.4,780.5 496.3,785.2" fill="none" stroke="#cfcfcf" stroke-width="0.9" />
<path d="M502.8,789.3 Q509.4,780.7 516.0,788.7" fill="none" stroke="#cfcfcf" stroke-width="0.9" />
<path d="M471.5,814.5 Q477.2,807.1 482.9,813.9" fill="none" stroke="#cfcfcf" stroke-width="0.9" />
<path d="M525.5,768.6 Q531.7,767.7 536.7,771.8 Q542.7,773.3 545.6,778.4 Q550.9,782.0 551.9,787.5 Q553.7,792.9 550.8,798.2 Q550.3,803.6 545.8,807.1 Q543.0,810.0 537.3,810.1 Q532.2,813.1 525.5,811.2 Q519.2,812.8 514.4,809.7 Q507.5,810.2 504.1,807.5 Q499.8,803.8 499.6,798.4 Q497.3,793.0 499.8,787.7 Q500.4,782.1 505.3,778.4 Q508.1,773.1 514.1,771.4 Q519.2,767.5 525.5,768.6 Z" fill="#f3f3f3" stroke="#cfcfcf" stroke-width="1.1" />
<path d="M540.7,787.5 Q544.3,782.9 547.8,787.1" fill="none" stroke="#cfcfcf" stroke-width="0.9" />
<path d="M507.4,783.1 Q511.8,777.4 516.3,782.7" fill="none" stroke="#cfcfcf" stroke-width="0.9" />
<path d="M537.7,781.4 Q541.5,776.5 545.2,781.1" fill="none" stroke="#cfcfcf" stroke-width="0.9" />
<path d="M535.5,810.0 Q542.4,801.0 549.3,809.3" fill="none" stroke="#cfcfcf" stroke-width="0.9" />
<path d="M508.9,790.7 Q515.7,781.8 522.5,790.0" fill="none" stroke="#cfcfcf" stroke-width="0.9" />
<path d="M520.7,800.4 Q524.9,794.8 529.2,800.0" fill="none" stroke="#cfcfcf" stroke-width="0.9" />
<path d="M501.1,790.2 Q507.1,782.4 513.1,789.6" fill="none" stroke="#cfcfcf" stroke-width="0.9" />
<path d="M531.5,796.5 Q536.4,790.2 541.2,796.0" fill="none" stroke="#cfcfcf" stroke-width="0.9" />
<path d="M521.8,792.8 Q527.0,786.1 532.1,792.3" fill="none" stroke="#cfcfcf" stroke-width="0.9" />
<path d="M668.0,769.8 Q674.5,768.6 679.6,772.3 Q686.5,772.5 690.0,776.2 Q695.7,778.5 697.4,782.6 Q700.4,786.3 699.7,790.5 Q699.6,794.6 695.9,798.1 Q694.7,801.4 690.6,803.4 Q687.2,805.7 680.1,805.1 Q675.1,807.7 668.0,805.4 Q661.2,807.5 656.4,804.8 Q649.8,805.3 646.6,803.1 Q641.9,801.2 640.4,798.0 Q636.3,794.5 636.0,790.5 Q636.0,786.5 639.7,782.9 Q640.8,778.6 645.6,775.9 Q649.2,772.4 656.5,772.4 Q661.5,768.6 668.0,769.8 Z" fill="#f3f3f3" stroke="#cfcfcf" stroke-width="1.1" />
<path d="M640.0,801.7 Q646.2,793.7 652.4,801.1" fill="none" stroke="#cfcfcf" stroke-width="0.9" />
<path d="M684.9,796.7 Q690.0,790.1 695.1,796.2" fill="none" stroke="#cfcfcf" stroke-width="0.9" />
<path d="M674.8,781.9 Q679.9,775.1 685.1,781.3" fill="none" stroke="#cfcfcf" stroke-width="0.9" />
<path d="M660.0,783.3 Q665.4,776.3 670.8,782.7" fill="none" stroke="#cfcfcf" stroke-width="0.9" />
<path d="M655.6,792.1 Q660.1,786.2 664.6,791.6" fill="none" stroke="#cfcfcf" stroke-width="0.9" />
<path d="M654.4,788.6 Q659.9,781.6 665.3,788.1" fill="none" stroke="#cfcfcf" stroke-width="0.9" />
<path d="M683.1,803.4 Q689.5,795.1 696.0,802.8" fill="none" stroke="#cfcfcf" stroke-width="0.9" />
<path d="M676.1,787.3 Q683.0,778.3 689.9,786.6" fill="none" stroke="#cfcfcf" stroke-width="0.9" />
<path d="M652.7,782.6 Q657.7,776.1 662.7,782.1" fill="none" stroke="#cfcfcf" stroke-width="0.9" />
<path d="M672.8,788.2 Q678.4,781.0 684.0,787.7" fill="none" stroke="#cfcfcf" stroke-width="0.9" />
<path d="M653.4,803.7 Q658.3,797.5 663.1,803.3" fill="none" stroke="#cfcfcf" stroke-width="0.9" />
<path d="M660.5,793.3 Q667.0,784.8 673.5,792.6" fill="none" stroke="#cfcfcf" stroke-width="0.9" />
<path d="M530.7,829.4 L578.2,819.3 L597.6,819.5 L594.7,805.8 L576.8,812.5 L529.3,822.6 Z" fill="#f3f3f3" stroke="#cfcfcf" stroke-width="1.1" />
<path d="M556.9,823.9 L590.1,813.1 L604.0,812.3 L600.3,800.9 L588.2,807.3 L555.1,818.1 Z" fill="#f3f3f3" stroke="#cfcfcf" stroke-width="1.1" />
<path d="M542.4,833.0 L584.2,827.2 L600.9,828.5 L599.3,816.7 L583.4,821.3 L541.6,827.0 Z" fill="#f3f3f3" stroke="#cfcfcf" stroke-width="1.1" />
<path d="M640.1,819.2 L688.9,803.3 L709.2,801.1 L704.8,787.8 L686.7,796.7 L637.9,812.6 Z" fill="#f3f3f3" stroke="#cfcfcf" stroke-width="1.1" />
<path d="M709.3,810.2 L736.0,799.1 L748.0,798.7 L742.6,785.8 L733.3,792.7 L706.7,803.8 Z" fill="#f3f3f3" stroke="#cfcfcf" stroke-width="1.1" />
<path d="M676.4,821.5 L742.0,811.4 L768.2,811.6 L766.0,797.8 L741.0,804.5 L675.4,814.5 Z" fill="#f3f3f3" stroke="#cfcfcf" stroke-width="1.1" />
<path d="M683.1,826.5 L742.5,825.6 L765.7,829.5 L765.5,815.5 L742.4,818.6 L682.9,819.5 Z" fill="#f3f3f3" stroke="#cfcfcf" stroke-width="1.1" />
<rect x="430" y="751" width="28" height="18" fill="#fff" stroke="#030303" stroke-width="2.2" rx="1.5" />
<rect x="773.5" y="751" width="27.5" height="18" fill="#fff" stroke="#030303" stroke-width="2.2" rx="1.5" />
<rect x="458" y="752.3" width="315.5" height="15.5" fill="#fff" stroke="#030303" stroke-width="2.2" />
<path d="M406,1173 V877.5 L410.5,873 H819.5 L823.9,877.5 V1173.5" fill="none" stroke="#030303" stroke-width="2.8" />
<line x1="406" y1="879" x2="406" y2="1173" stroke="#030303" stroke-width="3.6" />
<line x1="823.9" y1="879" x2="823.9" y2="1173.5" stroke="#030303" stroke-width="3.6" />
<line x1="404.2" y1="1173.5" x2="825.6" y2="1173.5" stroke="#030303" stroke-width="3.4" />
<rect x="419.6" y="1175.2" width="13.7" height="3.8" fill="#fff" stroke="#030303" stroke-width="2.4" rx="1" />
<rect x="796.4" y="1175.2" width="14" height="3.8" fill="#fff" stroke="#030303" stroke-width="2.4" rx="1" />
<rect x="430" y="881.6" width="28" height="17.899999999999977" fill="#fff" stroke="#030303" stroke-width="2.2" rx="1.5" />
<rect x="773.5" y="881.6" width="27.5" height="17.899999999999977" fill="#fff" stroke="#030303" stroke-width="2.2" rx="1.5" />
<rect x="458" y="883" width="315.5" height="15.299999999999955" fill="#fff" stroke="#030303" stroke-width="2.2" />
<line x1="420.2" y1="876" x2="420.2" y2="1172" stroke="#c4c4c4" stroke-width="1.2" />
<line x1="810.4" y1="876" x2="810.4" y2="1172" stroke="#c4c4c4" stroke-width="1.2" />
<line x1="420.2" y1="1141.9" x2="810.4" y2="1141.9" stroke="#c4c4c4" stroke-width="1.2" />
<path d="M425.6,1120 V883 Q425.6,877.5 431,877.5 H799 Q803.9,877.5 803.9,883 V1120 Q803.9,1125.7 798,1125.7 H431 Q425.6,1125.7 425.6,1120 Z" fill="none" stroke="#c4c4c4" stroke-width="1.2" />
<path d="M439,1118 V940 M791,1118 V940 M439,1118 Q439,1122 443,1122 H787 Q791,1122 791,1118" fill="none" stroke="#c4c4c4" stroke-width="1.2" />
<rect x="440.8" y="899.5" width="90.5" height="37.4" fill="#fff" stroke="#c4c4c4" stroke-width="1.2" rx="2" />
<rect x="535.8" y="900.6" width="253.9" height="10.6" fill="#ebebeb" stroke="#c4c4c4" stroke-width="1.1" />
<path d="M540,935 L548,915 Q600,910 640,918 L656,935 Z" fill="#f3f3f3" stroke="#c4c4c4" stroke-width="1.0" />
<path d="M648,935 L668,913 Q720,910 770,918 L784,935 Z" fill="#f3f3f3" stroke="#c4c4c4" stroke-width="1.0" />
<path d="M560,920 L566,912 M650,913 L656,932 M720,913 L712,934" fill="none" stroke="#c4c4c4" stroke-width="1.0" />
<line x1="440" y1="936.9" x2="789" y2="936.9" stroke="#c4c4c4" stroke-width="1.2" />
<polygon points="567.6,946.9 562.7,947.6 559.7,943.9 562.6,939.3 567.9,941.4" fill="#fbfbfb" stroke="#c4c4c4" stroke-width="0.9" />
<polygon points="461.6,947.9 456.2,949.1 453.4,945.3 455.7,940.9 461.2,941.9" fill="#fbfbfb" stroke="#c4c4c4" stroke-width="0.9" />
<polygon points="502.1,948.8 497.3,948.1 496.1,943.2 500.6,940.9 504.2,944.3" fill="#fbfbfb" stroke="#c4c4c4" stroke-width="0.9" />
<polygon points="527.9,948.1 523.3,948.5 521.4,944.1 525.1,940.6 529.0,943.7" fill="#fbfbfb" stroke="#c4c4c4" stroke-width="0.9" />
<polygon points="463.2,945.0 459.4,947.9 454.9,944.5 457.7,939.6 463.1,939.9" fill="#fbfbfb" stroke="#c4c4c4" stroke-width="0.9" />
<polygon points="546.6,949.2 541.7,947.3 543.0,942.5 547.8,940.5 549.9,945.5" fill="#fbfbfb" stroke="#c4c4c4" stroke-width="0.9" />
<polygon points="508.7,946.8 504.6,950.0 500.7,946.1 503.3,941.9 507.6,942.5" fill="#fbfbfb" stroke="#c4c4c4" stroke-width="0.9" />
<polygon points="492.1,946.2 487.7,944.9 487.5,940.1 492.2,938.3 495.2,942.5" fill="#fbfbfb" stroke="#c4c4c4" stroke-width="0.9" />
<polygon points="525.8,946.8 521.1,949.3 518.1,944.4 521.7,940.9 526.3,942.0" fill="#fbfbfb" stroke="#c4c4c4" stroke-width="0.9" />
<polygon points="540.8,945.8 538.1,949.7 533.5,947.6 533.4,942.1 539.1,941.0" fill="#fbfbfb" stroke="#c4c4c4" stroke-width="0.9" />
<polygon points="491.8,947.6 486.5,947.1 484.5,942.7 488.4,940.0 492.9,942.0" fill="#fbfbfb" stroke="#c4c4c4" stroke-width="0.9" />
<polygon points="456.7,948.5 451.9,948.6 449.6,944.7 452.9,941.0 458.0,943.1" fill="#fbfbfb" stroke="#c4c4c4" stroke-width="0.9" />
<polygon points="512.9,948.0 508.4,945.1 509.9,940.4 514.6,939.8 517.4,944.4" fill="#fbfbfb" stroke="#c4c4c4" stroke-width="0.9" />
<polygon points="468.3,947.4 463.0,948.0 461.0,942.6 465.7,939.1 470.3,942.6" fill="#fbfbfb" stroke="#c4c4c4" stroke-width="0.9" />
<polygon points="477.2,945.2 472.6,946.4 468.9,942.6 472.8,938.9 477.9,939.9" fill="#fbfbfb" stroke="#c4c4c4" stroke-width="0.9" />
<polygon points="559.2,947.0 554.9,944.8 555.5,940.2 559.8,939.5 562.7,943.4" fill="#fbfbfb" stroke="#c4c4c4" stroke-width="0.9" />
<polygon points="495.9,948.6 491.3,947.6 491.3,942.6 495.9,941.4 498.7,945.0" fill="#fbfbfb" stroke="#c4c4c4" stroke-width="0.9" />
<polygon points="484.1,946.4 480.0,948.5 476.5,945.1 478.9,940.5 483.7,941.9" fill="#fbfbfb" stroke="#c4c4c4" stroke-width="0.9" />
<polygon points="533.4,947.0 528.5,946.1 526.5,941.4 531.2,938.9 535.3,942.0" fill="#fbfbfb" stroke="#c4c4c4" stroke-width="0.9" />
<polygon points="522.1,946.7 517.6,948.9 514.3,944.2 518.0,940.2 523.0,941.9" fill="#fbfbfb" stroke="#c4c4c4" stroke-width="0.9" />
<polygon points="483.4,948.6 478.2,948.9 476.6,943.2 481.7,941.1 486.4,944.0" fill="#fbfbfb" stroke="#c4c4c4" stroke-width="0.9" />
<polygon points="508.0,946.7 502.8,946.5 502.0,941.1 506.6,939.3 510.4,942.2" fill="#fbfbfb" stroke="#c4c4c4" stroke-width="0.9" />
<polygon points="551.8,947.5 546.3,947.7 544.0,943.1 547.7,939.5 552.8,941.8" fill="#fbfbfb" stroke="#c4c4c4" stroke-width="0.9" />
<polygon points="475.7,946.8 470.9,945.5 469.5,940.3 474.8,937.9 478.3,942.3" fill="#fbfbfb" stroke="#c4c4c4" stroke-width="0.9" />
<polygon points="565.9,948.7 561.6,947.5 560.1,942.8 565.0,940.3 568.3,944.5" fill="#fbfbfb" stroke="#c4c4c4" stroke-width="0.9" />
<polygon points="509.9,945.9 505.3,948.7 501.5,945.3 503.5,941.0 508.4,940.7" fill="#fbfbfb" stroke="#c4c4c4" stroke-width="0.9" />
<polygon points="491.3,945.8 487.5,948.6 483.3,946.2 484.4,941.2 489.3,941.5" fill="#fbfbfb" stroke="#c4c4c4" stroke-width="0.9" />
<polygon points="461.0,945.3 456.8,947.8 453.2,945.2 454.1,940.4 459.7,939.8" fill="#fbfbfb" stroke="#c4c4c4" stroke-width="0.9" />
<polygon points="553.4,946.1 549.3,947.9 546.3,944.2 548.7,939.3 553.4,941.7" fill="#fbfbfb" stroke="#c4c4c4" stroke-width="0.9" />
<polygon points="562.7,946.4 557.8,948.8 555.6,943.8 558.2,939.6 563.1,941.4" fill="#fbfbfb" stroke="#c4c4c4" stroke-width="0.9" />
<polygon points="473.9,948.0 469.1,945.1 470.1,939.4 475.4,939.9 478.0,944.2" fill="#fbfbfb" stroke="#c4c4c4" stroke-width="0.9" />
<polygon points="540.8,946.4 535.3,947.0 532.0,942.9 535.8,939.4 540.7,940.7" fill="#fbfbfb" stroke="#c4c4c4" stroke-width="0.9" />
<polygon points="485.7,946.7 480.3,948.7 477.1,944.3 479.7,939.7 484.8,941.3" fill="#fbfbfb" stroke="#c4c4c4" stroke-width="0.9" />
<polygon points="546.1,946.6 541.0,947.0 539.4,942.6 542.5,939.4 547.2,941.3" fill="#fbfbfb" stroke="#c4c4c4" stroke-width="0.9" />
<rect x="443" y="940" width="8" height="10" fill="#fff" stroke="#c4c4c4" stroke-width="0.9" />
<line x1="612.9" y1="937" x2="612.9" y2="950" stroke="#c4c4c4" stroke-width="1.1" />
<path d="M640,949 L646,940 L651,949 M652,949 L658,940 L663,949" fill="none" stroke="#aaa" stroke-width="1.0" />
<ellipse cx="700" cy="944" rx="34" ry="6.5" fill="#f3f3f3" stroke="#bbb" stroke-width="1"/>
<circle cx="680" cy="944" r="3" fill="#fff" stroke="#bbb" stroke-width="0.8"/>
<circle cx="690" cy="942" r="3" fill="#fff" stroke="#bbb" stroke-width="0.8"/>
<circle cx="703" cy="945" r="3" fill="#fff" stroke="#bbb" stroke-width="0.8"/>
<circle cx="715" cy="943" r="3" fill="#fff" stroke="#bbb" stroke-width="0.8"/>
<circle cx="724" cy="945" r="3" fill="#fff" stroke="#bbb" stroke-width="0.8"/>
<path d="M745,940 L752,949 M760,940 L768,949" fill="none" stroke="#bbb" stroke-width="1.0" />
<rect x="440.6" y="949" width="347.6" height="13.6" fill="#ececec" stroke="#c4c4c4" stroke-width="1.2" />
<path d="M454,964 V986 Q454,990 458,990 H594 Q598,990 598,986 V964" fill="#fafafa" stroke="#c4c4c4" stroke-width="1.1" />
<polygon points="492.6,983.5 486.1,984.6 483.2,978.9 487.6,975.0 492.1,977.7" fill="#fbfbfb" stroke="#c4c4c4" stroke-width="0.9" />
<polygon points="534.2,983.7 529.6,981.5 529.2,975.5 535.6,974.6 538.2,980.0" fill="#fbfbfb" stroke="#c4c4c4" stroke-width="0.9" />
<polygon points="560.5,974.9 554.6,975.5 552.8,970.3 556.5,966.9 561.6,968.9" fill="#fbfbfb" stroke="#c4c4c4" stroke-width="0.9" />
<polygon points="580.1,971.0 577.6,976.1 572.1,973.6 572.1,968.1 577.8,965.5" fill="#fbfbfb" stroke="#c4c4c4" stroke-width="0.9" />
<polygon points="542.4,976.2 537.4,976.0 535.7,970.5 540.9,968.4 544.4,971.9" fill="#fbfbfb" stroke="#c4c4c4" stroke-width="0.9" />
<polygon points="528.8,977.7 523.5,975.8 525.2,970.1 531.0,968.9 533.1,974.5" fill="#fbfbfb" stroke="#c4c4c4" stroke-width="0.9" />
<polygon points="552.3,975.2 547.6,979.0 543.4,974.9 545.3,970.0 550.6,969.8" fill="#fbfbfb" stroke="#c4c4c4" stroke-width="0.9" />
<polygon points="476.7,977.2 470.8,977.7 469.1,972.4 473.1,969.4 477.2,971.9" fill="#fbfbfb" stroke="#c4c4c4" stroke-width="0.9" />
<polygon points="508.0,975.1 502.3,976.3 500.1,970.6 504.6,966.6 509.9,969.7" fill="#fbfbfb" stroke="#c4c4c4" stroke-width="0.9" />
<polygon points="532.5,976.8 528.0,980.3 524.0,975.8 526.9,971.3 532.7,971.0" fill="#fbfbfb" stroke="#c4c4c4" stroke-width="0.9" />
<polygon points="540.0,980.3 534.7,983.1 532.4,977.6 535.4,973.3 541.4,974.5" fill="#fbfbfb" stroke="#c4c4c4" stroke-width="0.9" />
<polygon points="480.2,978.9 474.7,981.2 472.2,975.6 476.0,972.1 481.0,973.5" fill="#fbfbfb" stroke="#c4c4c4" stroke-width="0.9" />
<polygon points="463.1,984.3 458.2,981.2 457.6,975.7 463.2,974.7 466.4,979.1" fill="#fbfbfb" stroke="#c4c4c4" stroke-width="0.9" />
<polygon points="505.1,974.3 500.5,977.4 494.9,975.6 497.3,970.3 502.8,968.3" fill="#fbfbfb" stroke="#c4c4c4" stroke-width="0.9" />
<polygon points="488.1,974.6 482.1,973.9 481.6,967.9 486.8,965.1 490.0,969.6" fill="#fbfbfb" stroke="#c4c4c4" stroke-width="0.9" />
<polygon points="549.1,980.2 544.9,977.9 545.0,972.4 551.3,971.2 553.3,977.1" fill="#fbfbfb" stroke="#c4c4c4" stroke-width="0.9" />
<polygon points="557.4,979.5 552.1,981.7 549.4,977.0 551.8,972.6 557.6,973.6" fill="#fbfbfb" stroke="#c4c4c4" stroke-width="0.9" />
<polygon points="498.8,977.4 494.2,980.7 489.4,976.9 491.6,970.8 497.7,971.9" fill="#fbfbfb" stroke="#c4c4c4" stroke-width="0.9" />
<polygon points="491.8,974.1 488.5,978.6 483.0,976.3 484.0,970.8 489.0,969.7" fill="#fbfbfb" stroke="#c4c4c4" stroke-width="0.9" />
<polygon points="477.0,974.5 471.4,976.5 468.8,970.9 472.9,967.0 477.9,969.2" fill="#fbfbfb" stroke="#c4c4c4" stroke-width="0.9" />
<polygon points="468.2,983.4 462.4,982.9 462.3,977.1 467.0,975.0 470.6,978.7" fill="#fbfbfb" stroke="#c4c4c4" stroke-width="0.9" />
<polygon points="489.6,981.8 484.0,980.8 481.5,975.7 486.7,972.6 491.0,976.1" fill="#fbfbfb" stroke="#c4c4c4" stroke-width="0.9" />
<polygon points="530.9,976.4 526.5,980.2 521.4,976.8 523.0,970.6 528.9,971.5" fill="#fbfbfb" stroke="#c4c4c4" stroke-width="0.9" />
<polygon points="579.6,985.2 573.9,983.3 572.0,977.9 577.5,974.7 581.0,979.4" fill="#fbfbfb" stroke="#c4c4c4" stroke-width="0.9" />
<polygon points="543.3,984.6 537.6,987.8 533.6,983.2 536.3,978.5 541.3,979.1" fill="#fbfbfb" stroke="#c4c4c4" stroke-width="0.9" />
<polygon points="573.1,977.1 568.0,980.5 564.5,975.6 567.1,971.3 572.9,970.9" fill="#fbfbfb" stroke="#c4c4c4" stroke-width="0.9" />
<polygon points="502.7,978.9 498.4,976.1 498.5,970.3 504.4,970.6 506.5,975.3" fill="#fbfbfb" stroke="#c4c4c4" stroke-width="0.9" />
<polygon points="583.9,976.7 579.0,974.5 579.6,969.3 584.9,967.7 587.9,972.7" fill="#fbfbfb" stroke="#c4c4c4" stroke-width="0.9" />
<polygon points="517.7,978.5 512.0,981.7 507.6,977.1 510.2,971.3 515.6,973.1" fill="#fbfbfb" stroke="#c4c4c4" stroke-width="0.9" />
<polygon points="499.1,973.2 494.0,977.4 488.4,974.0 490.3,968.1 495.7,968.3" fill="#fbfbfb" stroke="#c4c4c4" stroke-width="0.9" />
<polygon points="517.5,974.2 512.6,972.1 512.3,966.0 518.3,965.8 522.1,970.3" fill="#fbfbfb" stroke="#c4c4c4" stroke-width="0.9" />
<polygon points="507.0,979.2 502.2,982.9 497.3,980.4 497.8,974.7 503.7,973.8" fill="#fbfbfb" stroke="#c4c4c4" stroke-width="0.9" />
<polygon points="496.3,973.8 490.7,975.5 489.2,969.7 493.3,966.5 497.9,969.0" fill="#fbfbfb" stroke="#c4c4c4" stroke-width="0.9" />
<polygon points="479.0,976.9 473.6,977.5 471.4,972.6 475.2,968.6 480.6,971.1" fill="#fbfbfb" stroke="#c4c4c4" stroke-width="0.9" />
<polygon points="521.1,982.5 516.2,983.7 512.4,979.2 516.9,975.0 521.9,977.4" fill="#fbfbfb" stroke="#c4c4c4" stroke-width="0.9" />
<polygon points="532.0,983.3 526.9,985.3 524.0,981.1 526.2,976.2 531.8,977.8" fill="#fbfbfb" stroke="#c4c4c4" stroke-width="0.9" />
<polygon points="529.4,978.7 523.8,979.3 519.8,974.9 524.5,971.2 530.2,972.4" fill="#fbfbfb" stroke="#c4c4c4" stroke-width="0.9" />
<polygon points="487.6,981.7 483.4,985.1 478.4,981.4 480.9,975.5 487.3,975.9" fill="#fbfbfb" stroke="#c4c4c4" stroke-width="0.9" />
<polygon points="591.9,972.0 587.0,974.9 583.6,970.0 586.4,964.8 592.5,966.3" fill="#fbfbfb" stroke="#c4c4c4" stroke-width="0.9" />
<polygon points="592.1,983.3 587.4,980.7 586.6,975.0 592.4,974.6 595.0,978.7" fill="#fbfbfb" stroke="#c4c4c4" stroke-width="0.9" />
<polygon points="571.2,976.3 566.2,976.3 564.0,971.1 569.1,968.9 573.7,971.7" fill="#fbfbfb" stroke="#c4c4c4" stroke-width="0.9" />
<polygon points="585.5,976.6 579.4,975.7 578.0,969.8 583.5,966.8 586.8,971.2" fill="#fbfbfb" stroke="#c4c4c4" stroke-width="0.9" />
<polygon points="486.4,980.9 481.4,978.6 483.1,973.4 488.6,971.7 490.6,977.4" fill="#fbfbfb" stroke="#c4c4c4" stroke-width="0.9" />
<polygon points="534.0,979.4 529.4,983.7 523.8,980.6 525.8,975.0 531.0,974.5" fill="#fbfbfb" stroke="#c4c4c4" stroke-width="0.9" />
<polygon points="486.2,984.5 480.8,986.2 477.2,981.4 481.2,977.2 486.2,979.0" fill="#fbfbfb" stroke="#c4c4c4" stroke-width="0.9" />
<polygon points="564.3,981.6 559.9,985.5 555.4,980.8 558.2,975.4 563.8,976.5" fill="#fbfbfb" stroke="#c4c4c4" stroke-width="0.9" />
<polygon points="589.6,976.4 585.6,979.6 580.8,976.5 583.0,971.2 589.0,970.5" fill="#fbfbfb" stroke="#c4c4c4" stroke-width="0.9" />
<polygon points="548.2,979.6 542.3,979.4 540.9,973.7 545.7,970.5 550.2,974.1" fill="#fbfbfb" stroke="#c4c4c4" stroke-width="0.9" />
<polygon points="570.8,975.9 564.9,975.2 565.6,969.5 570.2,967.0 573.8,971.3" fill="#fbfbfb" stroke="#c4c4c4" stroke-width="0.9" />
<polygon points="557.4,973.5 553.1,976.8 548.6,973.0 551.4,968.4 556.3,968.6" fill="#fbfbfb" stroke="#c4c4c4" stroke-width="0.9" />
<polygon points="490.8,985.5 485.3,986.6 481.8,982.1 485.6,977.2 491.3,979.6" fill="#fbfbfb" stroke="#c4c4c4" stroke-width="0.9" />
<polygon points="464.2,977.9 459.0,980.1 456.7,974.7 460.3,970.7 465.6,972.6" fill="#fbfbfb" stroke="#c4c4c4" stroke-width="0.9" />
<polygon points="538.4,980.7 533.2,978.5 533.8,973.4 538.7,971.3 541.7,976.1" fill="#fbfbfb" stroke="#c4c4c4" stroke-width="0.9" />
<polygon points="534.8,973.9 532.0,977.9 527.4,976.3 526.3,970.6 532.4,969.1" fill="#fbfbfb" stroke="#c4c4c4" stroke-width="0.9" />
<polygon points="494.4,982.3 488.8,983.2 487.8,977.6 492.1,973.2 496.1,977.7" fill="#fbfbfb" stroke="#c4c4c4" stroke-width="0.9" />
<polygon points="499.6,977.7 494.0,975.3 494.8,969.9 499.8,968.0 503.4,972.7" fill="#fbfbfb" stroke="#c4c4c4" stroke-width="0.9" />
<polygon points="470.2,987.3 464.3,984.9 464.4,978.9 470.3,976.5 473.0,981.9" fill="#fbfbfb" stroke="#c4c4c4" stroke-width="0.9" />
<polygon points="505.9,972.2 500.9,974.9 495.8,972.6 497.8,967.1 503.8,966.1" fill="#fbfbfb" stroke="#c4c4c4" stroke-width="0.9" />
<polygon points="561.0,982.5 556.1,981.2 556.0,975.8 561.3,974.1 564.9,978.7" fill="#fbfbfb" stroke="#c4c4c4" stroke-width="0.9" />
<polygon points="576.2,984.5 571.2,981.5 571.8,976.0 577.6,974.6 580.7,980.1" fill="#fbfbfb" stroke="#c4c4c4" stroke-width="0.9" />
<polygon points="511.7,977.5 505.9,978.5 505.3,972.8 509.0,968.8 513.7,972.4" fill="#fbfbfb" stroke="#c4c4c4" stroke-width="0.9" />
<polygon points="490.7,980.7 484.2,982.1 481.3,976.6 485.1,971.6 491.1,974.1" fill="#fbfbfb" stroke="#c4c4c4" stroke-width="0.9" />
<polygon points="484.3,986.0 478.2,983.7 478.7,977.9 483.8,976.4 487.6,980.5" fill="#fbfbfb" stroke="#c4c4c4" stroke-width="0.9" />
<polygon points="491.9,983.7 486.0,983.6 484.0,978.6 487.9,974.0 493.2,977.6" fill="#fbfbfb" stroke="#c4c4c4" stroke-width="0.9" />
<polygon points="514.2,980.0 508.5,981.5 505.7,976.7 508.5,971.4 514.7,973.7" fill="#fbfbfb" stroke="#c4c4c4" stroke-width="0.9" />
<polygon points="564.7,974.4 559.8,978.3 554.8,974.6 557.0,969.4 562.6,968.6" fill="#fbfbfb" stroke="#c4c4c4" stroke-width="0.9" />
<polygon points="532.1,977.9 526.3,978.6 523.9,972.9 528.7,968.5 532.9,972.7" fill="#fbfbfb" stroke="#c4c4c4" stroke-width="0.9" />
<polygon points="538.0,986.4 531.8,986.5 531.4,980.8 535.5,976.9 540.1,980.9" fill="#fbfbfb" stroke="#c4c4c4" stroke-width="0.9" />
<polygon points="539.5,976.7 534.1,977.4 532.7,972.0 536.9,967.7 542.1,971.6" fill="#fbfbfb" stroke="#c4c4c4" stroke-width="0.9" />
<polygon points="526.6,982.3 521.4,983.7 517.0,979.9 520.6,974.6 526.6,976.2" fill="#fbfbfb" stroke="#c4c4c4" stroke-width="0.9" />
<polygon points="476.8,980.6 473.2,985.1 468.5,982.8 468.0,977.6 473.6,975.2" fill="#fbfbfb" stroke="#c4c4c4" stroke-width="0.9" />
<polygon points="543.7,977.7 537.8,976.8 538.3,970.8 543.3,969.4 547.9,973.2" fill="#fbfbfb" stroke="#c4c4c4" stroke-width="0.9" />
<polygon points="471.9,976.4 466.5,975.8 465.5,969.8 471.3,967.6 474.8,972.1" fill="#fbfbfb" stroke="#c4c4c4" stroke-width="0.9" />
<polygon points="562.8,984.5 557.1,984.4 555.0,979.4 559.1,974.8 564.8,978.4" fill="#fbfbfb" stroke="#c4c4c4" stroke-width="0.9" />
<polygon points="466.3,973.5 461.1,976.1 457.1,973.0 458.2,967.4 463.8,968.3" fill="#fbfbfb" stroke="#c4c4c4" stroke-width="0.9" />
<polygon points="589.3,980.7 584.3,977.6 584.0,971.8 589.9,971.0 592.4,975.8" fill="#fbfbfb" stroke="#c4c4c4" stroke-width="0.9" />
<polygon points="470.0,982.2 464.2,983.6 462.7,977.9 466.5,974.1 470.8,977.2" fill="#fbfbfb" stroke="#c4c4c4" stroke-width="0.9" />
<polygon points="509.7,984.3 504.7,985.4 501.5,980.8 505.7,977.0 511.4,978.7" fill="#fbfbfb" stroke="#c4c4c4" stroke-width="0.9" />
<polygon points="472.1,985.5 466.2,984.9 464.9,979.9 468.8,976.9 473.7,979.5" fill="#fbfbfb" stroke="#c4c4c4" stroke-width="0.9" />
<polygon points="466.5,975.6 460.2,974.1 459.7,967.7 465.5,965.7 469.9,970.1" fill="#fbfbfb" stroke="#c4c4c4" stroke-width="0.9" />
<path d="M624,987 Q618,982 622,975 Q640,971 664,974 Q668,982 664,989 Q640,991 624,987 Z" fill="#f6f6f6" stroke="#c4c4c4" stroke-width="1.1" />
<path d="M664,976 H770 V988 H664" fill="#f6f6f6" stroke="#c4c4c4" stroke-width="1.1" />
<line x1="690" y1="974" x2="690" y2="989" stroke="#c4c4c4" stroke-width="1.0" />
<line x1="440" y1="991.3" x2="788" y2="991.3" stroke="#c4c4c4" stroke-width="1.1" />
<path d="M516,998.6 V1010 Q516,1014.4 520,1014.4 H710 Q714,1014.4 714,1010 V998.6" fill="none" stroke="#c4c4c4" stroke-width="1.1" />
<line x1="516" y1="1006.5" x2="714" y2="1006.5" stroke="#c4c4c4" stroke-width="1.0" />
<path d="M611,994 V1003.3 H600.4 V1021.2 H629 V1003.3 H618.4 V994" fill="#fff" stroke="#c4c4c4" stroke-width="1.1" />
<line x1="611.9" y1="1021" x2="611.9" y2="1102" stroke="#c4c4c4" stroke-width="1.1" />
<line x1="616.8" y1="1021" x2="616.8" y2="1102" stroke="#c4c4c4" stroke-width="1.1" />
<path d="M455,998.6 L462,1098 Q462,1102.9 468,1102.9 H762 Q768,1102.9 768,1098 L772,998.6" fill="none" stroke="#c4c4c4" stroke-width="1.2" />
<path d="M440.6,1000 V1039 L460,1030 V1004 Z M788,1000 V1039 L770,1030 V1004 Z" fill="#fff" stroke="#c4c4c4" stroke-width="1.1" />
<path d="M470.8,1118 L474,1104 M478,1104 L475,1118 M758,1118 L755,1104 M751,1104 L754,1118 M470.8,1118 H758" fill="none" stroke="#c4c4c4" stroke-width="1.1" />
<path d="M445.7,1085 L438.6,1116.3 M772.3,1085 L786.4,1116.3" fill="none" stroke="#c4c4c4" stroke-width="1.0" />
<line x1="425.6" y1="1122.5" x2="803.9" y2="1122.5" stroke="#c4c4c4" stroke-width="1.1" />
<path d="M468,1074 L474,1028 Q540,1018 590,1030 L606,1070 Q540,1078 468,1074 Z" fill="#f7f7f7" stroke="#c4c4c4" stroke-width="1.2" />
<path d="M482,1050 Q510,1033 560,1036 L582,1028 L580,1042 Q586,1046 586,1050 Q560,1062 510,1064 Q488,1062 482,1050 Z" fill="#f0f0f0" stroke="#c4c4c4" stroke-width="1.0" />
<ellipse cx="497" cy="1052" rx="11" ry="8" fill="none" stroke="#c4c4c4" stroke-width="1"/>
<path d="M468,1095 L472,1076 Q540,1070 604,1074 L608,1096 Q540,1100 468,1095 Z" fill="#f7f7f7" stroke="#c4c4c4" stroke-width="1.2" />
<path d="M510,1078 Q560,1068 598,1082 Q570,1094 530,1090 Z" fill="#f0f0f0" stroke="#c4c4c4" stroke-width="1.0" />
<ellipse cx="583" cy="1082" rx="11" ry="7" fill="none" stroke="#c4c4c4" stroke-width="1"/>
<line x1="474" y1="1028" x2="468" y2="1074" stroke="#bbb" stroke-width="2.2" stroke-dasharray="1 1.5"/>
<line x1="602" y1="1074" x2="608" y2="1096" stroke="#bbb" stroke-width="2.2" stroke-dasharray="1 1.5"/>
<path d="M651,1082 L672,1017 Q720,1022 762,1038 L760,1082 Z" fill="#f7f7f7" stroke="#c4c4c4" stroke-width="1.2" />
<path d="M664,1040 L676,1034 L756,1050 L756,1074 L744,1080 L664,1064 Z" fill="#ececec" stroke="#bbb" stroke-width="1.1" />
<path d="M668,1045 Q700,1040 720,1052 Q740,1060 752,1056 M670,1055 Q700,1050 730,1064" fill="none" stroke="#ccc" stroke-width="0.9" />
<path d="M624,1096 L640,1050 L700,1060 Q740,1070 760,1080 L760,1096 Z" fill="#f7f7f7" stroke="#c4c4c4" stroke-width="1.2" />
<path d="M648,1080 Q690,1068 740,1084 Q700,1094 650,1092 Z" fill="#efefef" stroke="#c4c4c4" stroke-width="1.0" />
<line x1="672" y1="1017" x2="651" y2="1082" stroke="#bbb" stroke-width="2.2" stroke-dasharray="1 1.5"/>
<rect x="288" y="331" width="24" height="413" fill="#dadde1" />
<rect x="345" y="332" width="58" height="16" fill="#e6e7e9" />
<rect x="265" y="375" width="21" height="28" fill="#fff" stroke="#030303" stroke-width="3.4" rx="2" />
<line x1="266" y1="403" x2="266" y2="670" stroke="#030303" stroke-width="3.2" />
<line x1="281.6" y1="403" x2="281.6" y2="670" stroke="#030303" stroke-width="3.2" />
<rect x="283.2" y="403" width="1.8" height="267" fill="#555" />
<rect x="265" y="670" width="21" height="29" fill="#fff" stroke="#030303" stroke-width="3.4" rx="2" />
<path d="M286,745 V334 Q286,330.5 289.5,330.5 H402 Q405,330.5 405.5,334" fill="none" stroke="#030303" stroke-width="3.6" />
<path d="M286,741 Q286,745.5 290,745.5 H327.4 L425.9,728.5 V372 L424,366 V357" fill="none" stroke="#030303" stroke-width="3.6" />
<line x1="321.4" y1="332" x2="321.4" y2="741" stroke="#030303" stroke-width="2.4" />
<line x1="344.6" y1="332" x2="344.6" y2="348" stroke="#030303" stroke-width="1.3" />
<path d="M321.4,360.6 H424" fill="none" stroke="#030303" stroke-width="2" />
<path d="M327.5,736 V366 H420 M329.6,735 V369.6 H420" fill="none" stroke="#030303" stroke-width="1.3" />
<path d="M329.6,378 H420" fill="none" stroke="#030303" stroke-width="1.3" />
<path d="M343.5,722 V383 Q343.5,379.3 347.5,379.3 H423" fill="none" stroke="#030303" stroke-width="2.0" />
<path d="M351,718 V387 Q351,383.5 354.5,383.5 H419" fill="none" stroke="#030303" stroke-width="1.3" />
<path d="M351,388.3 H412 V560" fill="none" stroke="#030303" stroke-width="1.3" />
<line x1="412" y1="388.3" x2="420" y2="384" stroke="#030303" stroke-width="1.3" />
<path d="M343.5,722 L422,713.6" fill="none" stroke="#030303" stroke-width="2.0" />
<path d="M351,716 L412,710" fill="none" stroke="#030303" stroke-width="1.3" />
<path d="M329.6,729 L422,718 M329.6,735.8 L422,724.6" fill="none" stroke="#030303" stroke-width="1.3" />
<path d="M364,422.8 Q359,427.8 359,436.8 V454 Q359,459 365,459 H388 Q394,459 394,454 V436.8 Q394,427.8 389,422.8 Z" fill="#fff" stroke="#030303" stroke-width="1.8" />
<path d="M385,425.8 Q391,430.8 391,438.8 V453" fill="none" stroke="#bbb" stroke-width="2.2" />
<rect x="363" y="416.8" width="27" height="6" fill="#c5c6c8" stroke="#030303" stroke-width="1.6" rx="2.5" />
<path d="M405,422 Q400,427 400,436 V454 Q400,459 406,459 H426 Q432,459 432,454 V436 Q432,427 427,422 Z" fill="#fff" stroke="#030303" stroke-width="1.8" />
<path d="M423,425 Q429,430 429,438 V453" fill="none" stroke="#bbb" stroke-width="2.2" />
<rect x="404" y="416" width="24" height="6" fill="#c5c6c8" stroke="#030303" stroke-width="1.6" rx="2.5" />
<path d="M436,418.6 Q431,423.6 431,432.6 V450 Q431,455 437,455 H455 Q461,455 461,450 V432.6 Q461,423.6 456,418.6 Z" fill="#fff" stroke="#030303" stroke-width="1.8" />
<path d="M452,421.6 Q458,426.6 458,434.6 V449" fill="none" stroke="#bbb" stroke-width="2.2" />
<rect x="435" y="412.6" width="22" height="6" fill="#c5c6c8" stroke="#030303" stroke-width="1.6" rx="2.5" />
<polygon points="343.5,432.0 398.3,432.0 398.3,462.6 343.5,462.1" fill="rgba(238,239,240,0.55)" stroke="#030303" stroke-width="1.8" />
<polygon points="398.3,431.5 473.3,426.5 473.3,457.8 398.3,462.6" fill="rgba(246,246,247,0.55)" stroke="#030303" stroke-width="1.8" />
<polygon points="404.3,440.0 472.3,432.0 472.3,438.0 404.3,446.0" fill="#c5c6c8" stroke="#666" stroke-width="0.8" />
<path d="M359,507 Q349,514 349,530 V560 Q349,566 356,566 H399 Q405.6,566 405.6,560 V530 Q405.6,514 396,507 Z" fill="#fff" stroke="#030303" stroke-width="1.8" />
<path d="M366,522 Q363,532 363,545 V562 H398 V530 Q398,522 392,520 Z" fill="#c9cacc" stroke="none" stroke-width="1" />
<path d="M357,500 V505 Q357,508.5 377,508.5 Q398,508.5 398,505 V500" fill="#d0d1d3" stroke="#030303" stroke-width="1.6" />
<ellipse cx="377.5" cy="500" rx="20.5" ry="3.6" fill="#c3c4c6" stroke="#030303" stroke-width="1.6"/>
<path d="M403,536 L406,525 L418,521 L424,533" fill="#fff" stroke="#030303" stroke-width="1.5" />
<rect x="402" y="518" width="12" height="9" fill="#c5c6c8" stroke="#030303" stroke-width="1.2" transform="rotate(-22 408 522)"/>
<polygon points="343.3,537.8 405,537.8 405,569 343.3,568.5" fill="rgba(238,239,240,0.55)" stroke="#030303" stroke-width="1.8" />
<polygon points="405,537.3 469.7,529.5 469.7,560.2 405,569" fill="rgba(246,246,247,0.55)" stroke="#030303" stroke-width="1.8" />
<polygon points="411,545.3 468.7,534.5 468.7,540.5 411,551.3" fill="#c5c6c8" stroke="#666" stroke-width="0.8" />
<path d="M407,551 Q440,572 466,548" fill="none" stroke="#aaa" stroke-width="1.2" />
<path d="M352.7,631 V704 H390 V631 Z" fill="#dcdde0" stroke="#030303" stroke-width="1.6" />
<rect x="353.5" y="631.5" width="18.5" height="72" fill="#c6c7c9" />
<line x1="372" y1="631" x2="372" y2="704" stroke="#999" stroke-width="0.8" />
<path d="M352.7,631 L358,616 H387 L390,631" fill="#fff" stroke="#030303" stroke-width="1.6" />
<path d="M362,616 V612 Q362,610 364,610 H381 Q383,610 383,612 V616" fill="#fff" stroke="#030303" stroke-width="1.4" />
<path d="M367,624 Q372,618 377,624" fill="none" stroke="#030303" stroke-width="1.0" />
<path d="M397,584 V593 Q390,610 389,625 V700 Q389,705 395,705 H416 Q422,705 422,700 V625 Q421,610 411,593 V584 Z" fill="#dcdde0" stroke="#030303" stroke-width="1.8" />
<path d="M392,625 V700 H403 V622 Q404,606 409,595 H401 Q394,608 392,625 Z" fill="#e9eaec" stroke="none" stroke-width="1" />
<rect x="397" y="577.5" width="14" height="7" fill="#c5c6c8" stroke="#030303" stroke-width="1.4" rx="1.5" />
<line x1="400" y1="579" x2="400" y2="584" stroke="#777" stroke-width="0.6" />
<line x1="403" y1="579" x2="403" y2="584" stroke="#777" stroke-width="0.6" />
<line x1="406" y1="579" x2="406" y2="584" stroke="#777" stroke-width="0.6" />
<line x1="409" y1="579" x2="409" y2="584" stroke="#777" stroke-width="0.6" />
<polygon points="343,663.5 401,663.5 401,711 343,710.5" fill="rgba(238,239,240,0.55)" stroke="#030303" stroke-width="1.8" />
<polygon points="401,663 469,651 469,700 401,711" fill="rgba(246,246,247,0.55)" stroke="#030303" stroke-width="1.8" />
<polygon points="407,672 468,657 468,663 407,678" fill="#c5c6c8" stroke="#666" stroke-width="0.8" />
<rect x="919.7" y="331" width="23.7" height="413" fill="#dadde1" />
<rect x="830" y="332" width="56" height="9" fill="#e6e7e9" />
<rect x="947" y="375" width="21" height="28" fill="#fff" stroke="#030303" stroke-width="3.4" rx="2" />
<line x1="949" y1="403" x2="949" y2="670" stroke="#030303" stroke-width="3.4" />
<line x1="966.4" y1="403" x2="966.4" y2="670" stroke="#030303" stroke-width="3.2" />
<rect x="945.5" y="403" width="1.8" height="267" fill="#555" />
<rect x="947" y="671" width="21" height="29" fill="#fff" stroke="#030303" stroke-width="3.4" rx="2" />
<path d="M827,334 Q827,330.5 830.5,330.5 H942.5 Q946,330.5 946,334 V740 Q946,746.2 940,746.2 H903.3 L807.8,729.2" fill="none" stroke="#030303" stroke-width="3.6" />
<path d="M806.2,347 V730" fill="none" stroke="#030303" stroke-width="4" />
<line x1="910.5" y1="332" x2="910.5" y2="744" stroke="#030303" stroke-width="2.2" />
<line x1="887" y1="332" x2="887" y2="345" stroke="#030303" stroke-width="1.3" />
<path d="M808,360 H910.5" fill="none" stroke="#030303" stroke-width="2" />
<path d="M812,365 H905 V740 M812,369.8 H901 V740" fill="none" stroke="#030303" stroke-width="1.3" />
<path d="M808,378 H903" fill="none" stroke="#030303" stroke-width="2.0" />
<line x1="888.4" y1="378" x2="888.4" y2="732" stroke="#030303" stroke-width="2.2" />
<line x1="881.2" y1="395" x2="881.2" y2="725" stroke="#030303" stroke-width="1.3" />
<line x1="820" y1="372" x2="820" y2="735" stroke="#030303" stroke-width="1.3" />
<line x1="797.6" y1="640" x2="797.6" y2="731" stroke="#030303" stroke-width="1.3" />
<path d="M812,388 Q812,383 818,383 H878" fill="none" stroke="#030303" stroke-width="1.3" />
<rect x="885" y="420" width="8" height="28" fill="#fff" stroke="#030303" stroke-width="1.3" rx="2" />
<rect x="883" y="425" width="5" height="14" fill="#fff" stroke="#030303" stroke-width="1.1" />
<rect x="885" y="638" width="8" height="32" fill="#fff" stroke="#030303" stroke-width="1.3" rx="2" />
<rect x="883" y="645" width="5" height="14" fill="#fff" stroke="#030303" stroke-width="1.1" />
<polygon points="761.6,407 885.9,407.5 885.9,463.4 824.1,462.6 761.6,458.2" fill="rgba(250,250,250,0.86)" stroke="#030303" stroke-width="1.8" />
<path d="M772.6,408.5 L825.6,411.9 M844.7,409.7 L885.9,409.5" fill="none" stroke="#030303" stroke-width="1.6" />
<line x1="825.6" y1="411.9" x2="825.6" y2="462.6" stroke="#030303" stroke-width="1.6" />
<line x1="761.6" y1="445" x2="825.6" y2="447" stroke="#030303" stroke-width="1.6" />
<line x1="826" y1="430" x2="826" y2="462" stroke="#aaa" stroke-width="1.0" />
<path d="M764,440 L782,416 Q788,412 792,418 L772,444" fill="none" stroke="#c4c4c4" stroke-width="1.2" />
<rect x="796" y="417" width="4" height="20" fill="none" stroke="#c4c4c4" stroke-width="1.0" />
<path d="M828,445 L848,423 Q855,417 859,424 L838,449" fill="none" stroke="#c4c4c4" stroke-width="1.2" />
<ellipse cx="851" cy="422" rx="4" ry="5" fill="none" stroke="#c4c4c4" stroke-width="1.1"/>
<path d="M838,462 Q842,440 860,433 Q878,436 882,460 Z" fill="#f6f6f6" stroke="#c4c4c4" stroke-width="1.1" />
<path d="M773,443 H823 V447 M773,443 V447" fill="none" stroke="#c4c4c4" stroke-width="1.0" />
<rect x="885.1" y="407" width="6.7" height="41" fill="#fff" stroke="#030303" stroke-width="1.3" rx="2" />
<rect x="883.7" y="417.8" width="11.7" height="13.2" fill="#fff" stroke="#030303" stroke-width="1.2" rx="1.5" />
<line x1="888.5" y1="419" x2="888.5" y2="430" stroke="#030303" stroke-width="0.9" />
<rect x="778.5" y="527" width="24.3" height="34" fill="#f4f4f5" stroke="#999" stroke-width="1.0" rx="4" />
<ellipse cx="790.6" cy="528.3" rx="12.1" ry="3.2" fill="#d5d6d8" stroke="#030303" stroke-width="1.4"/>
<polygon points="762.4,529.1 828.5,537 828.5,569.6 762.4,560" fill="rgba(246,246,247,0.6)" stroke="#030303" stroke-width="1.8" />
<polygon points="763,536.5 826.3,546 826.3,552 763,543" fill="#c5c6c8" stroke="#666" stroke-width="0.8" />
<path d="M811.6,528 V560.4 Q811.6,564.4 825.95,564.4 Q840.3,564.4 840.3,560.4 V528" fill="#fff" stroke="#030303" stroke-width="1.6" />
<ellipse cx="825.95" cy="528" rx="14.349999999999966" ry="4" fill="#fff" stroke="#030303" stroke-width="1.6"/>
<ellipse cx="825.95" cy="529" rx="11.349999999999966" ry="2.2" fill="#dcdcdd" stroke="#666" stroke-width="0.7"/>
<rect x="833.3" y="533" width="4" height="26.399999999999977" fill="#e3e3e4" />
<path d="M838.8,529.4 V562.6 Q838.8,566.6 854.5999999999999,566.6 Q870.4,566.6 870.4,562.6 V529.4" fill="#fff" stroke="#030303" stroke-width="1.6" />
<ellipse cx="854.5999999999999" cy="529.4" rx="15.800000000000011" ry="4" fill="#fff" stroke="#030303" stroke-width="1.6"/>
<ellipse cx="854.5999999999999" cy="530.4" rx="12.800000000000011" ry="2.2" fill="#dcdcdd" stroke="#666" stroke-width="0.7"/>
<rect x="863.4" y="534.4" width="4" height="27.200000000000045" fill="#e3e3e4" />
<polygon points="828.5,537 887.4,533.5 887.4,568 828.5,569.6" fill="rgba(240,240,241,0.35)" stroke="#030303" stroke-width="1.8" />
<line x1="828.5" y1="537" x2="887.4" y2="533.5" stroke="#030303" stroke-width="1.8" />
<path d="M799.5,618.4 L781.2,633.3 Q777.2,637.3 777.2,643.3 V697 Q777.2,703 783.2,703 H823 Q829,703 829,697 V635.3 Q829,627.3 823,621.3 L813.2,618.4 Z" fill="#f1f1f3" stroke="#030303" stroke-width="1.8" />
<rect x="799.5" y="606.4" width="13.700000000000045" height="12.0" fill="#f4f4f5" stroke="#030303" stroke-width="1.5" rx="2" />
<ellipse cx="806.35" cy="607.9" rx="6.850000000000023" ry="2" fill="#e2e2e3" stroke="#030303" stroke-width="1.3"/>
<line x1="799.5" y1="612.4" x2="813.2" y2="612.4" stroke="#030303" stroke-width="0.9" />
<line x1="799.5" y1="614.9" x2="813.2" y2="614.9" stroke="#030303" stroke-width="0.9" />
<line x1="799.5" y1="617.4" x2="813.2" y2="617.4" stroke="#030303" stroke-width="0.9" />
<ellipse cx="820.6" cy="635.5" rx="3.3999999999999773" ry="7.5" fill="#fff" stroke="#030303" stroke-width="1.5"/>
<path d="M782.2,651.3 Q782.2,643.3 791.2,642.3 H807.2 Q813.2,643.3 814.2,653.3" fill="none" stroke="#030303" stroke-width="1.0" />
<path d="M841.8,623 L824.6,636.8 Q820.6,640.8 820.6,646.8 V697 Q820.6,703 826.6,703 H869 Q875,703 875,697 V637.6 Q875,629.6 869,623.6 L858.4,623 Z" fill="#f1f1f3" stroke="#030303" stroke-width="1.8" />
<rect x="841.8" y="611" width="16.600000000000023" height="12" fill="#f4f4f5" stroke="#030303" stroke-width="1.5" rx="2" />
<ellipse cx="850.0999999999999" cy="612.5" rx="8.300000000000011" ry="2" fill="#e2e2e3" stroke="#030303" stroke-width="1.3"/>
<line x1="841.8" y1="617" x2="858.4" y2="617" stroke="#030303" stroke-width="0.9" />
<line x1="841.8" y1="619.5" x2="858.4" y2="619.5" stroke="#030303" stroke-width="0.9" />
<line x1="841.8" y1="622" x2="858.4" y2="622" stroke="#030303" stroke-width="0.9" />
<ellipse cx="865.25" cy="643.65" rx="3.4500000000000455" ry="10.850000000000023" fill="#fff" stroke="#030303" stroke-width="1.5"/>
<path d="M825.6,654.8 Q825.6,646.8 834.6,645.8 H851.8 Q857.8,646.8 858.8,656.8" fill="none" stroke="#030303" stroke-width="1.0" />
<polygon points="763.4,653.9 832,666.5 832,711.7 763.4,701.4" fill="rgba(246,246,247,0.6)" stroke="#030303" stroke-width="1.8" />
<polygon points="767,662.5 827,674 827,679.7 767,667.5" fill="#c5c6c8" stroke="#666" stroke-width="0.8" />
<polygon points="832,666.5 884.7,665.4 884.7,711 832,711.7" fill="rgba(240,240,241,0.5)" stroke="#030303" stroke-width="1.8" />
<path d="M809,713.5 L884,721.5 Q888.9,722 888.9,717 V712" fill="none" stroke="#030303" stroke-width="2" />
<path d="M809,718.8 L902.6,729.9 M809,724.6 L902.6,735.8" fill="none" stroke="#030303" stroke-width="1.3" />
</g>
<path d="M203.5,325.5 H157.6 V721 H203.5" fill="none" stroke="#3298cd" stroke-width="3" stroke-linecap="round" stroke-linejoin="round"/>
<line x1="135" y1="523" x2="157" y2="523" stroke="#3298cd" stroke-width="2.6"/>
<path d="M203.5,730.5 H157.6 V864 H203.5" fill="none" stroke="#3298cd" stroke-width="3" stroke-linecap="round" stroke-linejoin="round"/>
<line x1="135" y1="797" x2="157" y2="797" stroke="#3298cd" stroke-width="2.6"/>
<path d="M203.5,873.8 H157.6 V1168.3 H203.5" fill="none" stroke="#3298cd" stroke-width="3" stroke-linecap="round" stroke-linejoin="round"/>
<line x1="135" y1="1021" x2="157" y2="1021" stroke="#3298cd" stroke-width="2.6"/>
<rect x="81.2" y="503" width="53.7" height="40" rx="3" fill="#3298cd"/>
<rect x="81.2" y="777" width="53.7" height="40" rx="3" fill="#3298cd"/>
<rect x="81.2" y="1002" width="53.7" height="40" rx="3" fill="#3298cd"/>
<polyline points="242,353.3 589.5,352.8" fill="none" stroke="#fff" stroke-width="8" stroke-linejoin="round"/>
<circle cx="589.5" cy="352.8" r="7" fill="#fff"/>
<polyline points="242,353.3 589.5,352.8" fill="none" stroke="#3298cd" stroke-width="2.8" stroke-linejoin="round"/>
<circle cx="589.5" cy="352.8" r="4.6" fill="#3298cd"/>
<polyline points="242,547.3 384.4,547.3 425.9,589.5" fill="none" stroke="#fff" stroke-width="8" stroke-linejoin="round"/>
<circle cx="425.9" cy="589.5" r="7" fill="#fff"/>
<polyline points="242,547.3 384.4,547.3 425.9,589.5" fill="none" stroke="#3298cd" stroke-width="2.8" stroke-linejoin="round"/>
<circle cx="425.9" cy="589.5" r="4.6" fill="#3298cd"/>
<polyline points="242,626.3 458,626" fill="none" stroke="#fff" stroke-width="8" stroke-linejoin="round"/>
<circle cx="458" cy="626" r="7" fill="#fff"/>
<polyline points="242,626.3 458,626" fill="none" stroke="#3298cd" stroke-width="2.8" stroke-linejoin="round"/>
<circle cx="458" cy="626" r="4.6" fill="#3298cd"/>
<polyline points="242,682.3 542,682" fill="none" stroke="#fff" stroke-width="8" stroke-linejoin="round"/>
<circle cx="542" cy="682" r="7" fill="#fff"/>
<polyline points="242,682.3 542,682" fill="none" stroke="#3298cd" stroke-width="2.8" stroke-linejoin="round"/>
<circle cx="542" cy="682" r="4.6" fill="#3298cd"/>
<polyline points="242,775.3 504,775.3 550,746" fill="none" stroke="#fff" stroke-width="8" stroke-linejoin="round"/>
<circle cx="550" cy="746" r="7" fill="#fff"/>
<polyline points="242,775.3 504,775.3 550,746" fill="none" stroke="#3298cd" stroke-width="2.8" stroke-linejoin="round"/>
<circle cx="550" cy="746" r="4.6" fill="#3298cd"/>
<polyline points="242,828.4 513,828.4 557,790.8" fill="none" stroke="#fff" stroke-width="8" stroke-linejoin="round"/>
<circle cx="557" cy="790.8" r="7" fill="#fff"/>
<polyline points="242,828.4 513,828.4 557,790.8" fill="none" stroke="#3298cd" stroke-width="2.8" stroke-linejoin="round"/>
<circle cx="557" cy="790.8" r="4.6" fill="#3298cd"/>
<polyline points="242,914.4 505,914.4" fill="none" stroke="#fff" stroke-width="8" stroke-linejoin="round"/>
<circle cx="505" cy="914.4" r="7" fill="#fff"/>
<polyline points="242,914.4 505,914.4" fill="none" stroke="#3298cd" stroke-width="2.8" stroke-linejoin="round"/>
<circle cx="505" cy="914.4" r="4.6" fill="#3298cd"/>
<polyline points="242,1020.9 488.5,1020.9 534,975.8" fill="none" stroke="#fff" stroke-width="8" stroke-linejoin="round"/>
<circle cx="534" cy="975.8" r="7" fill="#fff"/>
<polyline points="242,1020.9 488.5,1020.9 534,975.8" fill="none" stroke="#3298cd" stroke-width="2.8" stroke-linejoin="round"/>
<circle cx="534" cy="975.8" r="4.6" fill="#3298cd"/>
<polyline points="1082,343.4 838.5,343.4 792.7,376.4" fill="none" stroke="#fff" stroke-width="8" stroke-linejoin="round"/>
<circle cx="792.7" cy="376.4" r="7" fill="#fff"/>
<polyline points="1082,343.4 838.5,343.4 792.7,376.4" fill="none" stroke="#3298cd" stroke-width="2.8" stroke-linejoin="round"/>
<circle cx="792.7" cy="376.4" r="4.6" fill="#3298cd"/>
<polyline points="1082,395.1 858,395.1 813.5,427.8" fill="none" stroke="#fff" stroke-width="8" stroke-linejoin="round"/>
<circle cx="813.5" cy="427.8" r="7" fill="#fff"/>
<polyline points="1082,395.1 858,395.1 813.5,427.8" fill="none" stroke="#3298cd" stroke-width="2.8" stroke-linejoin="round"/>
<circle cx="813.5" cy="427.8" r="4.6" fill="#3298cd"/>
<polyline points="1082,454.4 740.6,450.4" fill="none" stroke="#fff" stroke-width="8" stroke-linejoin="round"/>
<circle cx="740.6" cy="450.4" r="7" fill="#fff"/>
<polyline points="1082,454.4 740.6,450.4" fill="none" stroke="#3298cd" stroke-width="2.8" stroke-linejoin="round"/>
<circle cx="740.6" cy="450.4" r="4.6" fill="#3298cd"/>
<polyline points="1082,506.4 793,503" fill="none" stroke="#fff" stroke-width="8" stroke-linejoin="round"/>
<circle cx="793" cy="503" r="7" fill="#fff"/>
<polyline points="1082,506.4 793,503" fill="none" stroke="#3298cd" stroke-width="2.8" stroke-linejoin="round"/>
<circle cx="793" cy="503" r="4.6" fill="#3298cd"/>
<polyline points="1082,615.4 890,614" fill="none" stroke="#fff" stroke-width="8" stroke-linejoin="round"/>
<circle cx="890" cy="614" r="7" fill="#fff"/>
<polyline points="1082,615.4 890,614" fill="none" stroke="#3298cd" stroke-width="2.8" stroke-linejoin="round"/>
<circle cx="890" cy="614" r="4.6" fill="#3298cd"/>
<polyline points="1082,694.6 846,694.3" fill="none" stroke="#fff" stroke-width="8" stroke-linejoin="round"/>
<circle cx="846" cy="694.3" r="7" fill="#fff"/>
<polyline points="1082,694.6 846,694.3" fill="none" stroke="#3298cd" stroke-width="2.8" stroke-linejoin="round"/>
<circle cx="846" cy="694.3" r="4.6" fill="#3298cd"/>
<polyline points="1082,914.2 746.6,914.2" fill="none" stroke="#fff" stroke-width="8" stroke-linejoin="round"/>
<circle cx="746.6" cy="914.2" r="7" fill="#fff"/>
<polyline points="1082,914.2 746.6,914.2" fill="none" stroke="#3298cd" stroke-width="2.8" stroke-linejoin="round"/>
<circle cx="746.6" cy="914.2" r="4.6" fill="#3298cd"/>
<polyline points="1082,972.4 746.6,972" fill="none" stroke="#fff" stroke-width="8" stroke-linejoin="round"/>
<circle cx="746.6" cy="972" r="7" fill="#fff"/>
<polyline points="1082,972.4 746.6,972" fill="none" stroke="#3298cd" stroke-width="2.8" stroke-linejoin="round"/>
<circle cx="746.6" cy="972" r="4.6" fill="#3298cd"/>
<polyline points="1082,1033.7 704.3,1028.4" fill="none" stroke="#fff" stroke-width="8" stroke-linejoin="round"/>
<circle cx="704.3" cy="1028.4" r="7" fill="#fff"/>
<polyline points="1082,1033.7 704.3,1028.4" fill="none" stroke="#3298cd" stroke-width="2.8" stroke-linejoin="round"/>
<circle cx="704.3" cy="1028.4" r="4.6" fill="#3298cd"/>
<polyline points="1082,1086.5 615.1,1086.3" fill="none" stroke="#fff" stroke-width="8" stroke-linejoin="round"/>
<circle cx="615.1" cy="1086.3" r="7" fill="#fff"/>
<polyline points="1082,1086.5 615.1,1086.3" fill="none" stroke="#3298cd" stroke-width="2.8" stroke-linejoin="round"/>
<circle cx="615.1" cy="1086.3" r="4.6" fill="#3298cd"/>
<polyline points="1082,1185.6 805.6,1185.6" fill="none" stroke="#fff" stroke-width="8" stroke-linejoin="round"/>
<circle cx="805.6" cy="1185.6" r="7" fill="#fff"/>
<polyline points="1082,1185.6 805.6,1185.6" fill="none" stroke="#3298cd" stroke-width="2.8" stroke-linejoin="round"/>
<circle cx="805.6" cy="1185.6" r="4.6" fill="#3298cd"/>
<rect x="189.3" y="333.6" width="53.599999999999994" height="40.099999999999966" rx="3" fill="#3298cd"/>
<rect x="189.3" y="524.3" width="53.599999999999994" height="40.200000000000045" rx="3" fill="#3298cd"/>
<rect x="189.3" y="606.9" width="53.599999999999994" height="39.700000000000045" rx="3" fill="#3298cd"/>
<rect x="189.3" y="662.2" width="53.599999999999994" height="40.0" rx="3" fill="#3298cd"/>
<rect x="189.3" y="755" width="53.599999999999994" height="40.5" rx="3" fill="#3298cd"/>
<rect x="189.3" y="810.2" width="53.599999999999994" height="40.299999999999955" rx="3" fill="#3298cd"/>
<rect x="189.3" y="894.7" width="53.599999999999994" height="40.09999999999991" rx="3" fill="#3298cd"/>
<rect x="189.3" y="1001.1" width="53.599999999999994" height="39.89999999999998" rx="3" fill="#3298cd"/>
<rect x="1081.1" y="324" width="53.80000000000018" height="39.69999999999999" rx="3" fill="#3298cd"/>
<rect x="1081.1" y="375.5" width="53.80000000000018" height="39.69999999999999" rx="3" fill="#3298cd"/>
<rect x="1081.1" y="434.2" width="53.80000000000018" height="39.80000000000001" rx="3" fill="#3298cd"/>
<rect x="1081.1" y="489.3" width="53.80000000000018" height="39.99999999999994" rx="3" fill="#3298cd"/>
<rect x="1081.1" y="595.1" width="53.80000000000018" height="40.0" rx="3" fill="#3298cd"/>
<rect x="1081.1" y="674.2" width="53.80000000000018" height="40.09999999999991" rx="3" fill="#3298cd"/>
<rect x="1081.1" y="894.7" width="53.80000000000018" height="39.89999999999998" rx="3" fill="#3298cd"/>
<rect x="1081.1" y="952.2" width="53.80000000000018" height="39.799999999999955" rx="3" fill="#3298cd"/>
<rect x="1081.1" y="1013.2" width="53.80000000000018" height="39.59999999999991" rx="3" fill="#3298cd"/>
<rect x="1081.1" y="1067" width="53.80000000000018" height="40" rx="3" fill="#3298cd"/>
<rect x="1081.1" y="1166.1" width="53.80000000000018" height="39.200000000000045" rx="3" fill="#3298cd"/></svg>
</body></html>
